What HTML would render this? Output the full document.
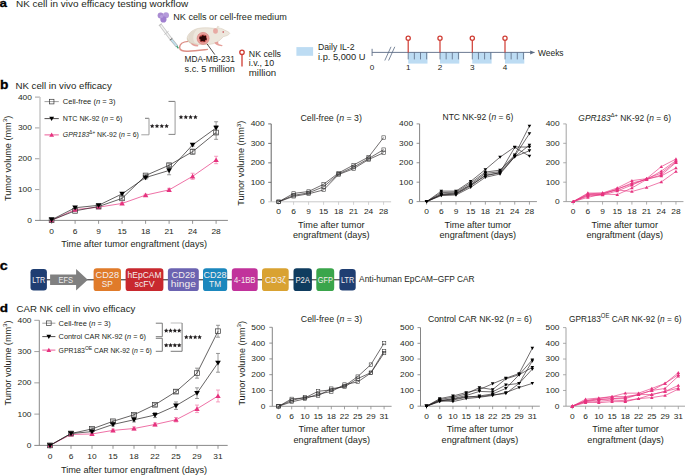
<!DOCTYPE html>
<html><head><meta charset="utf-8"><style>
html,body{margin:0;padding:0;background:#fff;overflow:hidden;}
svg{display:block;}
text{font-family:"Liberation Sans", sans-serif;}
</style></head><body>
<svg width="685" height="475" viewBox="0 0 685 475">
<rect width="685" height="475" fill="#fff"/>
<text transform="translate(-0.4,6.9) scale(1.150,1)" font-size="11.6" fill="#000" font-weight="bold" stroke="#000" stroke-width="0.3">a</text>
<text transform="translate(16,6.9) scale(1.070,1)" font-size="9.3" fill="#231f20">NK cell in vivo efficacy testing workflow</text>
<g>
<circle cx="160.6" cy="15.4" r="3.0" fill="#a98bd2"/>
<circle cx="166.0" cy="15.2" r="3.0" fill="#b49ada"/>
<circle cx="163.4" cy="19.4" r="3.1" fill="#a07fcf"/>
<circle cx="161.5" cy="16.5" r="1.6" fill="#c4b0e6" opacity="0.6"/>
</g>
<text transform="translate(173.3,19.8) scale(1.095,1)" font-size="8.3" fill="#231f20">NK cells or cell-free medium</text>
<g stroke-linecap="butt">
<line x1="160.4" y1="24.8" x2="171.3" y2="39.5" stroke="#c6c6c6" stroke-width="3"/>
<line x1="160.6" y1="25.1" x2="171.2" y2="39.4" stroke="#f3f3f3" stroke-width="1.5"/>
<line x1="171.3" y1="39.5" x2="177" y2="46.4" stroke="#b5b5b5" stroke-width="2.8"/>
<line x1="171.3" y1="39.5" x2="176.9" y2="46.3" stroke="#bfe0ee" stroke-width="1.6"/>
<line x1="169.9" y1="40.2" x2="172.3" y2="38.4" stroke="#555" stroke-width="0.9"/>
<line x1="164.4" y1="34.5" x2="168.6" y2="31.3" stroke="#c0c0c0" stroke-width="0.9"/>
<line x1="158.9" y1="25.7" x2="161.7" y2="23.6" stroke="#bdbdbd" stroke-width="1.1"/>
<line x1="176.7" y1="46" x2="178.4" y2="48.3" stroke="#3a9a70" stroke-width="1.3"/>
</g>
<path d="M188.2,41.4 C183.5,41.8 179.8,43.8 179.6,47.2 C179.5,50.4 183,51.5 188,51.2 C195,50.9 202,50.0 207.4,49.4" fill="none" stroke="#dc8f86" stroke-width="1.4" stroke-linecap="round"/>
<path d="M187.2,37.6 C188.5,32.5 194,28.6 201,28.0 C207,27.4 212,28.2 216,28.6 C219,27.6 222,28.4 224.5,30.0 C227,31.2 229.3,32.2 229.8,33.3 C228.6,35.4 226,36.0 223.5,36.6 C221.5,38.6 219.5,40.6 217.5,42.0 C214,44.2 209,44.6 203,44.5 C197,44.4 191.5,43.8 189.2,42.4 C187.6,41.2 187.0,39.4 187.2,37.6 Z" fill="#ede7dd" stroke="#d6cbbb" stroke-width="0.6"/>
<path d="M187.4,37.2 C188.2,41 192,43.6 200,44.4 C195.5,44.6 191.2,43.9 189.2,42.4 C187.6,41.2 187.0,39.4 187.4,37.2 Z" fill="#d8ccb8"/>
<path d="M188.4,36.2 C189.5,32.5 193,30.2 197,29.4 C194,32 192.8,35.5 193.4,39.5 C193.7,41.5 194.8,43 196.5,44.1 C192,43.6 189.2,41.8 188.4,39.5 Z" fill="#e3dace"/>
<ellipse cx="215.5" cy="31.0" rx="2.4" ry="2.8" fill="#e8aaa4"/>
<path d="M216.2,28.4 L217.6,25.8 L219.8,27.0 Z" fill="#e3dccf"/>
<circle cx="223.2" cy="31.9" r="0.75" fill="#c0303a"/>
<path d="M190.6,43.0 C191.5,45.2 193.5,46.4 197.5,46.4 C198.6,46.4 198.8,45.4 197.8,45.0 L195.5,44.5 Z" fill="#e5a09a"/>
<path d="M214.3,42.6 C215.5,44.6 217.5,46.0 221.8,46.3 C222.8,46.3 222.8,45.4 221.8,45.1 L218.6,44.0 L218,41.5 Z" fill="#e5a09a"/>
<circle cx="203.1" cy="38.4" r="6.0" fill="#e9a09c" stroke="#d77a75" stroke-width="0.6"/>
<circle cx="203.1" cy="38.4" r="3.9" fill="#c95552"/>
<path d="M199.6,36.6 L201.6,36.4 L202.6,35.0 L204.2,36.0 L206.2,35.4 L206.0,37.6 L207.0,39.4 L205.2,40.0 L204.6,41.8 L202.6,41.0 L200.4,41.6 L200.6,39.6 L199.2,38.4 Z" fill="#2c0606"/>
<line x1="207" y1="43.8" x2="214.8" y2="54.6" stroke="#231f20" stroke-width="0.8"/>
<text x="184.6" y="62.3" font-size="8.3" fill="#231f20">MDA-MB-231</text>
<text transform="translate(184.6,72.3) scale(1.102,1)" font-size="8.3" fill="#231f20">s.c. 5 million</text>
<circle cx="242.0" cy="52.3" r="2.2" fill="#fff" stroke="#cf3a31" stroke-width="1.3"/>
<line x1="242" y1="54.6" x2="242" y2="66.6" stroke="#cf3a31" stroke-width="1.3"/>
<text transform="translate(248.8,56.6) scale(1.058,1)" font-size="8.3" fill="#231f20">NK cells</text>
<text transform="translate(248.8,66.3) scale(1.066,1)" font-size="8.3" fill="#231f20">i.v., 10</text>
<text transform="translate(248.8,76.2) scale(1.165,1)" font-size="8.3" fill="#231f20">million</text>
<rect x="296.4" y="47.1" width="16.7" height="8.7" fill="#bddcf3"/>
<text transform="translate(318,49.9) scale(1.044,1)" font-size="8.3" fill="#231f20">Daily IL-2</text>
<text transform="translate(318,60) scale(1.119,1)" font-size="8.3" fill="#231f20">i.p. 5,000 U</text>
<line x1="372.1" y1="48.8" x2="372.1" y2="56" stroke="#5b6b84" stroke-width="0.9"/>
<rect x="408.2" y="52.4" width="19.3" height="11.2" fill="#bddcf3"/>
<rect x="440" y="52.4" width="19.3" height="11.2" fill="#bddcf3"/>
<rect x="472.3" y="52.4" width="19.3" height="11.2" fill="#bddcf3"/>
<rect x="505" y="52.4" width="19.3" height="11.2" fill="#bddcf3"/>
<line x1="372.1" y1="52.4" x2="534.5" y2="52.4" stroke="#5b6b84" stroke-width="0.9"/>
<polygon points="530.2,50.4 534.8,52.4 530.2,54.4" fill="#5b6b84"/>
<line x1="384.8" y1="60.5" x2="391" y2="46.8" stroke="#5b6b84" stroke-width="0.8"/>
<line x1="388.6" y1="60.5" x2="394.8" y2="46.8" stroke="#5b6b84" stroke-width="0.8"/>
<line x1="408.2" y1="52.4" x2="408.2" y2="59.4" stroke="#5b6b84" stroke-width="0.8"/>
<line x1="414.35" y1="52.4" x2="414.35" y2="59.4" stroke="#5b6b84" stroke-width="0.8"/>
<line x1="420.5" y1="52.4" x2="420.5" y2="59.4" stroke="#5b6b84" stroke-width="0.8"/>
<line x1="426.65" y1="52.4" x2="426.65" y2="59.4" stroke="#5b6b84" stroke-width="0.8"/>
<line x1="408.2" y1="40.4" x2="408.2" y2="52.4" stroke="#cf3a31" stroke-width="1.2"/>
<circle cx="408.2" cy="38.3" r="2.1" fill="#fff" stroke="#cf3a31" stroke-width="1.25"/>
<line x1="440" y1="52.4" x2="440" y2="59.4" stroke="#5b6b84" stroke-width="0.8"/>
<line x1="446.15" y1="52.4" x2="446.15" y2="59.4" stroke="#5b6b84" stroke-width="0.8"/>
<line x1="452.3" y1="52.4" x2="452.3" y2="59.4" stroke="#5b6b84" stroke-width="0.8"/>
<line x1="458.45" y1="52.4" x2="458.45" y2="59.4" stroke="#5b6b84" stroke-width="0.8"/>
<line x1="440" y1="40.4" x2="440" y2="52.4" stroke="#cf3a31" stroke-width="1.2"/>
<circle cx="440.0" cy="38.3" r="2.1" fill="#fff" stroke="#cf3a31" stroke-width="1.25"/>
<line x1="472.3" y1="52.4" x2="472.3" y2="59.4" stroke="#5b6b84" stroke-width="0.8"/>
<line x1="478.45" y1="52.4" x2="478.45" y2="59.4" stroke="#5b6b84" stroke-width="0.8"/>
<line x1="484.6" y1="52.4" x2="484.6" y2="59.4" stroke="#5b6b84" stroke-width="0.8"/>
<line x1="490.75" y1="52.4" x2="490.75" y2="59.4" stroke="#5b6b84" stroke-width="0.8"/>
<line x1="472.3" y1="40.4" x2="472.3" y2="52.4" stroke="#cf3a31" stroke-width="1.2"/>
<circle cx="472.3" cy="38.3" r="2.1" fill="#fff" stroke="#cf3a31" stroke-width="1.25"/>
<line x1="505" y1="52.4" x2="505" y2="59.4" stroke="#5b6b84" stroke-width="0.8"/>
<line x1="511.15" y1="52.4" x2="511.15" y2="59.4" stroke="#5b6b84" stroke-width="0.8"/>
<line x1="517.3" y1="52.4" x2="517.3" y2="59.4" stroke="#5b6b84" stroke-width="0.8"/>
<line x1="523.45" y1="52.4" x2="523.45" y2="59.4" stroke="#5b6b84" stroke-width="0.8"/>
<line x1="505" y1="40.4" x2="505" y2="52.4" stroke="#cf3a31" stroke-width="1.2"/>
<circle cx="505.0" cy="38.3" r="2.1" fill="#fff" stroke="#cf3a31" stroke-width="1.25"/>
<text transform="translate(372.1,69.6) scale(1.120,1)" font-size="7.3" text-anchor="middle" fill="#231f20">0</text>
<text transform="translate(408.2,69.6) scale(1.120,1)" font-size="7.3" text-anchor="middle" fill="#231f20">1</text>
<text transform="translate(440,69.6) scale(1.120,1)" font-size="7.3" text-anchor="middle" fill="#231f20">2</text>
<text transform="translate(472.3,69.6) scale(1.120,1)" font-size="7.3" text-anchor="middle" fill="#231f20">3</text>
<text transform="translate(505,69.6) scale(1.120,1)" font-size="7.3" text-anchor="middle" fill="#231f20">4</text>
<text transform="translate(538,55.6) scale(1.015,1)" font-size="8.3" fill="#231f20">Weeks</text>
<text transform="translate(0.1,89) scale(1.120,1)" font-size="12.3" fill="#000" font-weight="bold" stroke="#000" stroke-width="0.3">b</text>
<text transform="translate(15.4,89) scale(1.045,1)" font-size="9.3" fill="#231f20">NK cell in vivo efficacy</text>
<text transform="translate(31.9,222.85) scale(1.200,1)" font-size="7" text-anchor="end" fill="#231f20">0</text>
<line x1="35" y1="189.57" x2="40" y2="189.57" stroke="#8a8a8a" stroke-width="0.8"/>
<text transform="translate(31.9,192.02) scale(1.200,1)" font-size="7" text-anchor="end" fill="#231f20">100</text>
<line x1="35" y1="158.75" x2="40" y2="158.75" stroke="#8a8a8a" stroke-width="0.8"/>
<text transform="translate(31.9,161.2) scale(1.200,1)" font-size="7" text-anchor="end" fill="#231f20">200</text>
<line x1="35" y1="127.92" x2="40" y2="127.92" stroke="#8a8a8a" stroke-width="0.8"/>
<text transform="translate(31.9,130.38) scale(1.200,1)" font-size="7" text-anchor="end" fill="#231f20">300</text>
<line x1="35" y1="97.1" x2="40" y2="97.1" stroke="#8a8a8a" stroke-width="0.8"/>
<text transform="translate(31.9,99.55) scale(1.200,1)" font-size="7" text-anchor="end" fill="#231f20">400</text>
<line x1="40" y1="97.1" x2="40" y2="220.4" stroke="#c9c9c9" stroke-width="1.5"/>
<line x1="35" y1="220.4" x2="227.9" y2="220.4" stroke="#7a7a7a" stroke-width="0.9"/>
<line x1="51.6" y1="220.4" x2="51.6" y2="223.8" stroke="#7a7a7a" stroke-width="0.8"/>
<text transform="translate(51.6,233.8) scale(1.200,1)" font-size="7" text-anchor="middle" fill="#231f20">0</text>
<line x1="75.1" y1="220.4" x2="75.1" y2="223.8" stroke="#7a7a7a" stroke-width="0.8"/>
<text transform="translate(75.1,233.8) scale(1.200,1)" font-size="7" text-anchor="middle" fill="#231f20">6</text>
<line x1="98.6" y1="220.4" x2="98.6" y2="223.8" stroke="#7a7a7a" stroke-width="0.8"/>
<text transform="translate(98.6,233.8) scale(1.200,1)" font-size="7" text-anchor="middle" fill="#231f20">9</text>
<line x1="122.1" y1="220.4" x2="122.1" y2="223.8" stroke="#7a7a7a" stroke-width="0.8"/>
<text transform="translate(122.1,233.8) scale(1.200,1)" font-size="7" text-anchor="middle" fill="#231f20">15</text>
<line x1="145.6" y1="220.4" x2="145.6" y2="223.8" stroke="#7a7a7a" stroke-width="0.8"/>
<text transform="translate(145.6,233.8) scale(1.200,1)" font-size="7" text-anchor="middle" fill="#231f20">18</text>
<line x1="169.1" y1="220.4" x2="169.1" y2="223.8" stroke="#7a7a7a" stroke-width="0.8"/>
<text transform="translate(169.1,233.8) scale(1.200,1)" font-size="7" text-anchor="middle" fill="#231f20">21</text>
<line x1="192.6" y1="220.4" x2="192.6" y2="223.8" stroke="#7a7a7a" stroke-width="0.8"/>
<text transform="translate(192.6,233.8) scale(1.200,1)" font-size="7" text-anchor="middle" fill="#231f20">24</text>
<line x1="216.1" y1="220.4" x2="216.1" y2="223.8" stroke="#7a7a7a" stroke-width="0.8"/>
<text transform="translate(216.1,233.8) scale(1.200,1)" font-size="7" text-anchor="middle" fill="#231f20">28</text>
<text transform="translate(10.6,158.4) rotate(-90) scale(1.038,1)" font-size="8.8" text-anchor="middle" fill="#231f20">Tumor volume (mm<tspan dy="-3.6" font-size="5.98">3</tspan><tspan dy="3.6">)</tspan></text>
<text transform="translate(134.2,246.6) scale(1.076,1)" font-size="8.5" text-anchor="middle" fill="#231f20">Time after tumor engraftment (days)</text>
<line x1="122.1" y1="202.52" x2="122.1" y2="204.37" stroke="#f07aa8" stroke-width="0.7"/>
<line x1="120.1" y1="202.52" x2="124.1" y2="202.52" stroke="#f07aa8" stroke-width="0.7"/>
<line x1="120.1" y1="204.37" x2="124.1" y2="204.37" stroke="#f07aa8" stroke-width="0.7"/>
<line x1="145.6" y1="194.2" x2="145.6" y2="196.05" stroke="#f07aa8" stroke-width="0.7"/>
<line x1="143.6" y1="194.2" x2="147.6" y2="194.2" stroke="#f07aa8" stroke-width="0.7"/>
<line x1="143.6" y1="196.05" x2="147.6" y2="196.05" stroke="#f07aa8" stroke-width="0.7"/>
<line x1="169.1" y1="188.34" x2="169.1" y2="191.42" stroke="#f07aa8" stroke-width="0.7"/>
<line x1="167.1" y1="188.34" x2="171.1" y2="188.34" stroke="#f07aa8" stroke-width="0.7"/>
<line x1="167.1" y1="191.42" x2="171.1" y2="191.42" stroke="#f07aa8" stroke-width="0.7"/>
<line x1="192.6" y1="173.24" x2="192.6" y2="179.4" stroke="#f07aa8" stroke-width="0.7"/>
<line x1="190.6" y1="173.24" x2="194.6" y2="173.24" stroke="#f07aa8" stroke-width="0.7"/>
<line x1="190.6" y1="179.4" x2="194.6" y2="179.4" stroke="#f07aa8" stroke-width="0.7"/>
<line x1="216.1" y1="156.28" x2="216.1" y2="163.68" stroke="#f07aa8" stroke-width="0.7"/>
<line x1="214.1" y1="156.28" x2="218.1" y2="156.28" stroke="#f07aa8" stroke-width="0.7"/>
<line x1="214.1" y1="163.68" x2="218.1" y2="163.68" stroke="#f07aa8" stroke-width="0.7"/>
<line x1="75.1" y1="209.92" x2="75.1" y2="211.77" stroke="#707070" stroke-width="0.7"/>
<line x1="73.1" y1="209.92" x2="77.1" y2="209.92" stroke="#707070" stroke-width="0.7"/>
<line x1="73.1" y1="211.77" x2="77.1" y2="211.77" stroke="#707070" stroke-width="0.7"/>
<line x1="98.6" y1="205.6" x2="98.6" y2="207.45" stroke="#707070" stroke-width="0.7"/>
<line x1="96.6" y1="205.6" x2="100.6" y2="205.6" stroke="#707070" stroke-width="0.7"/>
<line x1="96.6" y1="207.45" x2="100.6" y2="207.45" stroke="#707070" stroke-width="0.7"/>
<line x1="122.1" y1="196.82" x2="122.1" y2="199.9" stroke="#707070" stroke-width="0.7"/>
<line x1="120.1" y1="196.82" x2="124.1" y2="196.82" stroke="#707070" stroke-width="0.7"/>
<line x1="120.1" y1="199.9" x2="124.1" y2="199.9" stroke="#707070" stroke-width="0.7"/>
<line x1="145.6" y1="174.29" x2="145.6" y2="176.75" stroke="#707070" stroke-width="0.7"/>
<line x1="143.6" y1="174.29" x2="147.6" y2="174.29" stroke="#707070" stroke-width="0.7"/>
<line x1="143.6" y1="176.75" x2="147.6" y2="176.75" stroke="#707070" stroke-width="0.7"/>
<line x1="169.1" y1="163.68" x2="169.1" y2="166.76" stroke="#707070" stroke-width="0.7"/>
<line x1="167.1" y1="163.68" x2="171.1" y2="163.68" stroke="#707070" stroke-width="0.7"/>
<line x1="167.1" y1="166.76" x2="171.1" y2="166.76" stroke="#707070" stroke-width="0.7"/>
<line x1="192.6" y1="149.19" x2="192.6" y2="154.13" stroke="#707070" stroke-width="0.7"/>
<line x1="190.6" y1="149.19" x2="194.6" y2="149.19" stroke="#707070" stroke-width="0.7"/>
<line x1="190.6" y1="154.13" x2="194.6" y2="154.13" stroke="#707070" stroke-width="0.7"/>
<line x1="216.1" y1="125.77" x2="216.1" y2="139.33" stroke="#707070" stroke-width="0.7"/>
<line x1="214.1" y1="125.77" x2="218.1" y2="125.77" stroke="#707070" stroke-width="0.7"/>
<line x1="214.1" y1="139.33" x2="218.1" y2="139.33" stroke="#707070" stroke-width="0.7"/>
<line x1="75.1" y1="206.84" x2="75.1" y2="208.69" stroke="#707070" stroke-width="0.7"/>
<line x1="73.1" y1="206.84" x2="77.1" y2="206.84" stroke="#707070" stroke-width="0.7"/>
<line x1="73.1" y1="208.69" x2="77.1" y2="208.69" stroke="#707070" stroke-width="0.7"/>
<line x1="98.6" y1="204.37" x2="98.6" y2="206.22" stroke="#707070" stroke-width="0.7"/>
<line x1="96.6" y1="204.37" x2="100.6" y2="204.37" stroke="#707070" stroke-width="0.7"/>
<line x1="96.6" y1="206.22" x2="100.6" y2="206.22" stroke="#707070" stroke-width="0.7"/>
<line x1="122.1" y1="192.66" x2="122.1" y2="195.12" stroke="#707070" stroke-width="0.7"/>
<line x1="120.1" y1="192.66" x2="124.1" y2="192.66" stroke="#707070" stroke-width="0.7"/>
<line x1="120.1" y1="195.12" x2="124.1" y2="195.12" stroke="#707070" stroke-width="0.7"/>
<line x1="145.6" y1="176.01" x2="145.6" y2="179.09" stroke="#707070" stroke-width="0.7"/>
<line x1="143.6" y1="176.01" x2="147.6" y2="176.01" stroke="#707070" stroke-width="0.7"/>
<line x1="143.6" y1="179.09" x2="147.6" y2="179.09" stroke="#707070" stroke-width="0.7"/>
<line x1="169.1" y1="166.15" x2="169.1" y2="174.78" stroke="#707070" stroke-width="0.7"/>
<line x1="167.1" y1="166.15" x2="171.1" y2="166.15" stroke="#707070" stroke-width="0.7"/>
<line x1="167.1" y1="174.78" x2="171.1" y2="174.78" stroke="#707070" stroke-width="0.7"/>
<line x1="192.6" y1="143.65" x2="192.6" y2="146.11" stroke="#707070" stroke-width="0.7"/>
<line x1="190.6" y1="143.65" x2="194.6" y2="143.65" stroke="#707070" stroke-width="0.7"/>
<line x1="190.6" y1="146.11" x2="194.6" y2="146.11" stroke="#707070" stroke-width="0.7"/>
<line x1="216.1" y1="121.76" x2="216.1" y2="134.09" stroke="#707070" stroke-width="0.7"/>
<line x1="214.1" y1="121.76" x2="218.1" y2="121.76" stroke="#707070" stroke-width="0.7"/>
<line x1="214.1" y1="134.09" x2="218.1" y2="134.09" stroke="#707070" stroke-width="0.7"/>
<polyline points="51.6,220.4 75.1,209.61 98.6,207.15 122.1,203.45 145.6,195.12 169.1,189.88 192.6,176.32 216.1,159.98" fill="none" stroke="#e6337f" stroke-width="0.7" stroke-linejoin="round"/>
<polyline points="51.6,220.09 75.1,210.84 98.6,206.53 122.1,198.36 145.6,175.52 169.1,165.22 192.6,151.66 216.1,132.55" fill="none" stroke="#231f20" stroke-width="0.7" stroke-linejoin="round"/>
<polyline points="51.6,219.78 75.1,207.76 98.6,205.3 122.1,193.89 145.6,177.55 169.1,170.46 192.6,144.88 216.1,127.92" fill="none" stroke="#231f20" stroke-width="0.7" stroke-linejoin="round"/>
<polygon points="48.87,222.48 54.33,222.48 51.6,217.8" fill="#e6337f"/>
<polygon points="72.37,211.69 77.83,211.69 75.1,207.01" fill="#e6337f"/>
<polygon points="95.87,209.23 101.33,209.23 98.6,204.55" fill="#e6337f"/>
<polygon points="119.37,205.53 124.83,205.53 122.1,200.85" fill="#e6337f"/>
<polygon points="142.87,197.2 148.33,197.2 145.6,192.52" fill="#e6337f"/>
<polygon points="166.37,191.96 171.83,191.96 169.1,187.28" fill="#e6337f"/>
<polygon points="189.87,178.4 195.33,178.4 192.6,173.72" fill="#e6337f"/>
<polygon points="213.37,162.06 218.83,162.06 216.1,157.38" fill="#e6337f"/>
<rect x="49.2" y="217.69" width="4.8" height="4.8" fill="none" stroke="#3a3a3a" stroke-width="0.7"/>
<rect x="72.7" y="208.44" width="4.8" height="4.8" fill="none" stroke="#3a3a3a" stroke-width="0.7"/>
<rect x="96.2" y="204.13" width="4.8" height="4.8" fill="none" stroke="#3a3a3a" stroke-width="0.7"/>
<rect x="119.7" y="195.96" width="4.8" height="4.8" fill="none" stroke="#3a3a3a" stroke-width="0.7"/>
<rect x="143.2" y="173.12" width="4.8" height="4.8" fill="none" stroke="#3a3a3a" stroke-width="0.7"/>
<rect x="166.7" y="162.82" width="4.8" height="4.8" fill="none" stroke="#3a3a3a" stroke-width="0.7"/>
<rect x="190.2" y="149.26" width="4.8" height="4.8" fill="none" stroke="#3a3a3a" stroke-width="0.7"/>
<rect x="213.7" y="130.15" width="4.8" height="4.8" fill="none" stroke="#3a3a3a" stroke-width="0.7"/>
<polygon points="48.77,217.62 54.44,217.62 51.6,222.48" fill="#000"/>
<polygon points="72.27,205.6 77.93,205.6 75.1,210.46" fill="#000"/>
<polygon points="95.77,203.14 101.43,203.14 98.6,208" fill="#000"/>
<polygon points="119.27,191.73 124.93,191.73 122.1,196.59" fill="#000"/>
<polygon points="142.76,175.39 148.44,175.39 145.6,180.25" fill="#000"/>
<polygon points="166.26,168.3 171.94,168.3 169.1,173.16" fill="#000"/>
<polygon points="189.76,142.72 195.44,142.72 192.6,147.58" fill="#000"/>
<polygon points="213.26,125.77 218.94,125.77 216.1,130.62" fill="#000"/>
<line x1="44.5" y1="101.6" x2="58.8" y2="101.6" stroke="#888" stroke-width="0.8"/>
<rect x="49.35" y="99.3" width="4.6" height="4.6" fill="none" stroke="#3a3a3a" stroke-width="0.7"/>
<text transform="translate(62.8,104.1) scale(1.019,1)" font-size="7.4" fill="#231f20">Cell-free (<tspan font-style="italic">n</tspan> = 3)</text>
<line x1="44.5" y1="118.6" x2="58.8" y2="118.6" stroke="#231f20" stroke-width="0.8"/>
<polygon points="49.23,116.76 54.06,116.76 51.65,120.9" fill="#000"/>
<text transform="translate(62.8,121.1) scale(0.963,1)" font-size="7.4" fill="#231f20">NTC NK-92 (<tspan font-style="italic">n</tspan> = 6)</text>
<line x1="44.5" y1="134.9" x2="58.8" y2="134.9" stroke="#e6337f" stroke-width="0.8"/>
<polygon points="49.23,136.74 54.06,136.74 51.65,132.6" fill="#e6337f"/>
<text transform="translate(62.8,137.4) scale(0.937,1)" font-size="7.4" fill="#231f20"><tspan font-style="italic">GPR183</tspan><tspan font-size="5.0" dy="-3.0">Δ+</tspan><tspan dy="3.0"> NK-92 (</tspan><tspan font-style="italic">n</tspan> = 6)</text>
<line x1="145" y1="118.3" x2="149" y2="118.3" stroke="#666" stroke-width="0.9"/>
<line x1="149" y1="118.3" x2="149" y2="134.8" stroke="#aaa" stroke-width="1.2"/>
<line x1="141.3" y1="134.8" x2="149" y2="134.8" stroke="#999" stroke-width="0.9"/>
<polygon points="152.20,123.70 152.88,125.17 154.48,125.36 153.30,126.46 153.61,128.04 152.20,127.25 150.79,128.04 151.10,126.46 149.92,125.36 151.52,125.17" fill="#231f20"/>
<polygon points="157.00,123.70 157.68,125.17 159.28,125.36 158.10,126.46 158.41,128.04 157.00,127.25 155.59,128.04 155.90,126.46 154.72,125.36 156.32,125.17" fill="#231f20"/>
<polygon points="161.80,123.70 162.48,125.17 164.08,125.36 162.90,126.46 163.21,128.04 161.80,127.25 160.39,128.04 160.70,126.46 159.52,125.36 161.12,125.17" fill="#231f20"/>
<polygon points="166.60,123.70 167.28,125.17 168.88,125.36 167.70,126.46 168.01,128.04 166.60,127.25 165.19,128.04 165.50,126.46 164.32,125.36 165.92,125.17" fill="#231f20"/>
<line x1="168.5" y1="101.4" x2="175.1" y2="101.4" stroke="#666" stroke-width="0.9"/>
<line x1="175.1" y1="101.4" x2="175.1" y2="134.4" stroke="#aaa" stroke-width="1.2"/>
<line x1="168.5" y1="134.4" x2="175.1" y2="134.4" stroke="#777" stroke-width="0.9"/>
<polygon points="181.00,114.80 181.68,116.27 183.28,116.46 182.10,117.56 182.41,119.14 181.00,118.35 179.59,119.14 179.90,117.56 178.72,116.46 180.32,116.27" fill="#231f20"/>
<polygon points="185.80,114.80 186.48,116.27 188.08,116.46 186.90,117.56 187.21,119.14 185.80,118.35 184.39,119.14 184.70,117.56 183.52,116.46 185.12,116.27" fill="#231f20"/>
<polygon points="190.60,114.80 191.28,116.27 192.88,116.46 191.70,117.56 192.01,119.14 190.60,118.35 189.19,119.14 189.50,117.56 188.32,116.46 189.92,116.27" fill="#231f20"/>
<polygon points="195.40,114.80 196.08,116.27 197.68,116.46 196.50,117.56 196.81,119.14 195.40,118.35 193.99,119.14 194.30,117.56 193.12,116.46 194.72,116.27" fill="#231f20"/>
<text transform="translate(264.7,204.25) scale(1.200,1)" font-size="7" text-anchor="end" fill="#231f20">0</text>
<line x1="268.2" y1="182.33" x2="271.2" y2="182.33" stroke="#555" stroke-width="0.8"/>
<text transform="translate(264.7,184.78) scale(1.200,1)" font-size="7" text-anchor="end" fill="#231f20">100</text>
<line x1="268.2" y1="162.85" x2="271.2" y2="162.85" stroke="#555" stroke-width="0.8"/>
<text transform="translate(264.7,165.3) scale(1.200,1)" font-size="7" text-anchor="end" fill="#231f20">200</text>
<line x1="268.2" y1="143.38" x2="271.2" y2="143.38" stroke="#555" stroke-width="0.8"/>
<text transform="translate(264.7,145.82) scale(1.200,1)" font-size="7" text-anchor="end" fill="#231f20">300</text>
<line x1="268.2" y1="123.9" x2="271.2" y2="123.9" stroke="#555" stroke-width="0.8"/>
<text transform="translate(264.7,126.35) scale(1.200,1)" font-size="7" text-anchor="end" fill="#231f20">400</text>
<line x1="271.2" y1="123.9" x2="271.2" y2="201.8" stroke="#555" stroke-width="0.9"/>
<line x1="268.2" y1="201.8" x2="391.1" y2="201.8" stroke="#c4c4c4" stroke-width="0.9"/>
<line x1="278.6" y1="201.8" x2="278.6" y2="204.8" stroke="#c4c4c4" stroke-width="0.8"/>
<text transform="translate(278.6,214.1) scale(1.200,1)" font-size="7" text-anchor="middle" fill="#231f20">0</text>
<line x1="293.6" y1="201.8" x2="293.6" y2="204.8" stroke="#c4c4c4" stroke-width="0.8"/>
<text transform="translate(293.6,214.1) scale(1.200,1)" font-size="7" text-anchor="middle" fill="#231f20">6</text>
<line x1="308.6" y1="201.8" x2="308.6" y2="204.8" stroke="#c4c4c4" stroke-width="0.8"/>
<text transform="translate(308.6,214.1) scale(1.200,1)" font-size="7" text-anchor="middle" fill="#231f20">9</text>
<line x1="323.6" y1="201.8" x2="323.6" y2="204.8" stroke="#c4c4c4" stroke-width="0.8"/>
<text transform="translate(323.6,214.1) scale(1.200,1)" font-size="7" text-anchor="middle" fill="#231f20">15</text>
<line x1="338.6" y1="201.8" x2="338.6" y2="204.8" stroke="#c4c4c4" stroke-width="0.8"/>
<text transform="translate(338.6,214.1) scale(1.200,1)" font-size="7" text-anchor="middle" fill="#231f20">18</text>
<line x1="353.6" y1="201.8" x2="353.6" y2="204.8" stroke="#c4c4c4" stroke-width="0.8"/>
<text transform="translate(353.6,214.1) scale(1.200,1)" font-size="7" text-anchor="middle" fill="#231f20">21</text>
<line x1="368.6" y1="201.8" x2="368.6" y2="204.8" stroke="#c4c4c4" stroke-width="0.8"/>
<text transform="translate(368.6,214.1) scale(1.200,1)" font-size="7" text-anchor="middle" fill="#231f20">24</text>
<line x1="383.6" y1="201.8" x2="383.6" y2="204.8" stroke="#c4c4c4" stroke-width="0.8"/>
<text transform="translate(383.6,214.1) scale(1.200,1)" font-size="7" text-anchor="middle" fill="#231f20">28</text>
<text x="331.2" y="120.6" font-size="8.8" text-anchor="middle" fill="#231f20">Cell-free (<tspan font-style="italic">n</tspan> = 3)</text>
<text transform="translate(331.3,227.7) scale(1.061,1)" font-size="8.6" text-anchor="middle" fill="#231f20">Time after tumor</text>
<text transform="translate(331.3,237.7) scale(1.063,1)" font-size="8.6" text-anchor="middle" fill="#231f20">engraftment (days)</text>
<text transform="translate(244.3,163.3) rotate(-90) scale(1.086,1)" font-size="8.4" text-anchor="middle" fill="#231f20">Tumor volume (mm<tspan dy="-3.6" font-size="5.71">3</tspan><tspan dy="3.6">)</tspan></text>
<polyline points="278.6,201.8 293.6,193.43 308.6,191.48 323.6,184.27 338.6,172.98 353.6,164.99 368.6,157.01 383.6,137.53" fill="none" stroke="#231f20" stroke-width="0.65" stroke-linejoin="round"/>
<polyline points="278.6,201.8 293.6,195.37 308.6,192.84 323.6,186.8 338.6,173.95 353.6,167.13 368.6,158.57 383.6,149.61" fill="none" stroke="#231f20" stroke-width="0.65" stroke-linejoin="round"/>
<polyline points="278.6,201.8 293.6,196.35 308.6,193.82 323.6,189.92 338.6,174.54 353.6,168.69 368.6,159.54 383.6,152.72" fill="none" stroke="#231f20" stroke-width="0.65" stroke-linejoin="round"/>
<rect x="276.9" y="200.1" width="3.4" height="3.4" fill="none" stroke="#333" stroke-width="0.55"/>
<rect x="291.9" y="191.73" width="3.4" height="3.4" fill="none" stroke="#333" stroke-width="0.55"/>
<rect x="306.9" y="189.78" width="3.4" height="3.4" fill="none" stroke="#333" stroke-width="0.55"/>
<rect x="321.9" y="182.57" width="3.4" height="3.4" fill="none" stroke="#333" stroke-width="0.55"/>
<rect x="336.9" y="171.28" width="3.4" height="3.4" fill="none" stroke="#333" stroke-width="0.55"/>
<rect x="351.9" y="163.29" width="3.4" height="3.4" fill="none" stroke="#333" stroke-width="0.55"/>
<rect x="366.9" y="155.31" width="3.4" height="3.4" fill="none" stroke="#333" stroke-width="0.55"/>
<rect x="381.9" y="135.83" width="3.4" height="3.4" fill="none" stroke="#333" stroke-width="0.55"/>
<rect x="276.9" y="200.1" width="3.4" height="3.4" fill="none" stroke="#333" stroke-width="0.55"/>
<rect x="291.9" y="193.67" width="3.4" height="3.4" fill="none" stroke="#333" stroke-width="0.55"/>
<rect x="306.9" y="191.14" width="3.4" height="3.4" fill="none" stroke="#333" stroke-width="0.55"/>
<rect x="321.9" y="185.1" width="3.4" height="3.4" fill="none" stroke="#333" stroke-width="0.55"/>
<rect x="336.9" y="172.25" width="3.4" height="3.4" fill="none" stroke="#333" stroke-width="0.55"/>
<rect x="351.9" y="165.43" width="3.4" height="3.4" fill="none" stroke="#333" stroke-width="0.55"/>
<rect x="366.9" y="156.87" width="3.4" height="3.4" fill="none" stroke="#333" stroke-width="0.55"/>
<rect x="381.9" y="147.91" width="3.4" height="3.4" fill="none" stroke="#333" stroke-width="0.55"/>
<rect x="276.9" y="200.1" width="3.4" height="3.4" fill="none" stroke="#333" stroke-width="0.55"/>
<rect x="291.9" y="194.65" width="3.4" height="3.4" fill="none" stroke="#333" stroke-width="0.55"/>
<rect x="306.9" y="192.12" width="3.4" height="3.4" fill="none" stroke="#333" stroke-width="0.55"/>
<rect x="321.9" y="188.22" width="3.4" height="3.4" fill="none" stroke="#333" stroke-width="0.55"/>
<rect x="336.9" y="172.84" width="3.4" height="3.4" fill="none" stroke="#333" stroke-width="0.55"/>
<rect x="351.9" y="166.99" width="3.4" height="3.4" fill="none" stroke="#333" stroke-width="0.55"/>
<rect x="366.9" y="157.84" width="3.4" height="3.4" fill="none" stroke="#333" stroke-width="0.55"/>
<rect x="381.9" y="151.02" width="3.4" height="3.4" fill="none" stroke="#333" stroke-width="0.55"/>
<text transform="translate(413.1,204.05) scale(1.200,1)" font-size="7" text-anchor="end" fill="#231f20">0</text>
<line x1="416.6" y1="182.18" x2="419.6" y2="182.18" stroke="#777" stroke-width="0.8"/>
<text transform="translate(413.1,184.62) scale(1.200,1)" font-size="7" text-anchor="end" fill="#231f20">100</text>
<line x1="416.6" y1="162.75" x2="419.6" y2="162.75" stroke="#777" stroke-width="0.8"/>
<text transform="translate(413.1,165.2) scale(1.200,1)" font-size="7" text-anchor="end" fill="#231f20">200</text>
<line x1="416.6" y1="143.32" x2="419.6" y2="143.32" stroke="#777" stroke-width="0.8"/>
<text transform="translate(413.1,145.77) scale(1.200,1)" font-size="7" text-anchor="end" fill="#231f20">300</text>
<line x1="416.6" y1="123.9" x2="419.6" y2="123.9" stroke="#777" stroke-width="0.8"/>
<text transform="translate(413.1,126.35) scale(1.200,1)" font-size="7" text-anchor="end" fill="#231f20">400</text>
<line x1="419.6" y1="123.9" x2="419.6" y2="201.6" stroke="#777" stroke-width="0.9"/>
<line x1="416.6" y1="201.6" x2="536.93" y2="201.6" stroke="#8a8a8a" stroke-width="0.9"/>
<line x1="426.6" y1="201.6" x2="426.6" y2="204.6" stroke="#8a8a8a" stroke-width="0.8"/>
<text transform="translate(426.6,213.9) scale(1.200,1)" font-size="7" text-anchor="middle" fill="#231f20">0</text>
<line x1="441.29" y1="201.6" x2="441.29" y2="204.6" stroke="#8a8a8a" stroke-width="0.8"/>
<text transform="translate(441.29,213.9) scale(1.200,1)" font-size="7" text-anchor="middle" fill="#231f20">6</text>
<line x1="455.98" y1="201.6" x2="455.98" y2="204.6" stroke="#8a8a8a" stroke-width="0.8"/>
<text transform="translate(455.98,213.9) scale(1.200,1)" font-size="7" text-anchor="middle" fill="#231f20">9</text>
<line x1="470.67" y1="201.6" x2="470.67" y2="204.6" stroke="#8a8a8a" stroke-width="0.8"/>
<text transform="translate(470.67,213.9) scale(1.200,1)" font-size="7" text-anchor="middle" fill="#231f20">15</text>
<line x1="485.36" y1="201.6" x2="485.36" y2="204.6" stroke="#8a8a8a" stroke-width="0.8"/>
<text transform="translate(485.36,213.9) scale(1.200,1)" font-size="7" text-anchor="middle" fill="#231f20">18</text>
<line x1="500.05" y1="201.6" x2="500.05" y2="204.6" stroke="#8a8a8a" stroke-width="0.8"/>
<text transform="translate(500.05,213.9) scale(1.200,1)" font-size="7" text-anchor="middle" fill="#231f20">21</text>
<line x1="514.74" y1="201.6" x2="514.74" y2="204.6" stroke="#8a8a8a" stroke-width="0.8"/>
<text transform="translate(514.74,213.9) scale(1.200,1)" font-size="7" text-anchor="middle" fill="#231f20">24</text>
<line x1="529.43" y1="201.6" x2="529.43" y2="204.6" stroke="#8a8a8a" stroke-width="0.8"/>
<text transform="translate(529.43,213.9) scale(1.200,1)" font-size="7" text-anchor="middle" fill="#231f20">28</text>
<text transform="translate(477.9,119.8) scale(0.961,1)" font-size="8.8" text-anchor="middle" fill="#231f20">NTC NK-92 (<tspan font-style="italic">n</tspan> = 6)</text>
<text transform="translate(477.8,227.7) scale(1.061,1)" font-size="8.6" text-anchor="middle" fill="#231f20">Time after tumor</text>
<text transform="translate(477.8,237.7) scale(1.063,1)" font-size="8.6" text-anchor="middle" fill="#231f20">engraftment (days)</text>
<polyline points="426.6,201.6 441.29,191.11 455.98,191.11 470.67,181.4 485.36,169.55 500.05,157.12 514.74,147.02 529.43,147.02" fill="none" stroke="#231f20" stroke-width="0.65" stroke-linejoin="round"/>
<polyline points="426.6,201.6 441.29,192.66 455.98,192.08 470.67,182.95 485.36,172.07 500.05,170.13 514.74,154.98 529.43,126.04" fill="none" stroke="#231f20" stroke-width="0.65" stroke-linejoin="round"/>
<polyline points="426.6,201.6 441.29,194.02 455.98,193.05 470.67,184.51 485.36,173.43 500.05,171.69 514.74,156.15 529.43,133.61" fill="none" stroke="#231f20" stroke-width="0.65" stroke-linejoin="round"/>
<polyline points="426.6,201.6 441.29,195 455.98,194.02 470.67,186.06 485.36,174.99 500.05,173.05 514.74,156.73 529.43,145.07" fill="none" stroke="#231f20" stroke-width="0.65" stroke-linejoin="round"/>
<polyline points="426.6,201.6 441.29,195.58 455.98,195 470.67,187.42 485.36,177.32 500.05,174.02 514.74,156.73 529.43,150.71" fill="none" stroke="#231f20" stroke-width="0.65" stroke-linejoin="round"/>
<polyline points="426.6,201.6 441.29,194.61 455.98,193.83 470.67,185.09 485.36,175.96 500.05,172.46 514.74,147.4 529.43,156.15" fill="none" stroke="#231f20" stroke-width="0.65" stroke-linejoin="round"/>
<polygon points="424.81,200.24 428.39,200.24 426.6,203.3" fill="#000"/>
<polygon points="439.5,189.75 443.08,189.75 441.29,192.81" fill="#000"/>
<polygon points="454.19,189.75 457.77,189.75 455.98,192.81" fill="#000"/>
<polygon points="468.88,180.04 472.46,180.04 470.67,183.1" fill="#000"/>
<polygon points="483.57,168.19 487.15,168.19 485.36,171.25" fill="#000"/>
<polygon points="498.26,155.76 501.84,155.76 500.05,158.82" fill="#000"/>
<polygon points="512.96,145.66 516.52,145.66 514.74,148.72" fill="#000"/>
<polygon points="527.65,145.66 531.22,145.66 529.43,148.72" fill="#000"/>
<polygon points="424.81,200.24 428.39,200.24 426.6,203.3" fill="#000"/>
<polygon points="439.5,191.3 443.08,191.3 441.29,194.36" fill="#000"/>
<polygon points="454.19,190.72 457.77,190.72 455.98,193.78" fill="#000"/>
<polygon points="468.88,181.59 472.46,181.59 470.67,184.65" fill="#000"/>
<polygon points="483.57,170.71 487.15,170.71 485.36,173.77" fill="#000"/>
<polygon points="498.26,168.77 501.84,168.77 500.05,171.83" fill="#000"/>
<polygon points="512.96,153.62 516.52,153.62 514.74,156.68" fill="#000"/>
<polygon points="527.65,124.68 531.22,124.68 529.43,127.74" fill="#000"/>
<polygon points="424.81,200.24 428.39,200.24 426.6,203.3" fill="#000"/>
<polygon points="439.5,192.66 443.08,192.66 441.29,195.72" fill="#000"/>
<polygon points="454.19,191.69 457.77,191.69 455.98,194.75" fill="#000"/>
<polygon points="468.88,183.15 472.46,183.15 470.67,186.21" fill="#000"/>
<polygon points="483.57,172.07 487.15,172.07 485.36,175.13" fill="#000"/>
<polygon points="498.26,170.33 501.84,170.33 500.05,173.39" fill="#000"/>
<polygon points="512.96,154.79 516.52,154.79 514.74,157.85" fill="#000"/>
<polygon points="527.65,132.25 531.22,132.25 529.43,135.31" fill="#000"/>
<polygon points="424.81,200.24 428.39,200.24 426.6,203.3" fill="#000"/>
<polygon points="439.5,193.64 443.08,193.64 441.29,196.7" fill="#000"/>
<polygon points="454.19,192.66 457.77,192.66 455.98,195.72" fill="#000"/>
<polygon points="468.88,184.7 472.46,184.7 470.67,187.76" fill="#000"/>
<polygon points="483.57,173.63 487.15,173.63 485.36,176.69" fill="#000"/>
<polygon points="498.26,171.69 501.84,171.69 500.05,174.75" fill="#000"/>
<polygon points="512.96,155.37 516.52,155.37 514.74,158.43" fill="#000"/>
<polygon points="527.65,143.71 531.22,143.71 529.43,146.77" fill="#000"/>
<polygon points="424.81,200.24 428.39,200.24 426.6,203.3" fill="#000"/>
<polygon points="439.5,194.22 443.08,194.22 441.29,197.28" fill="#000"/>
<polygon points="454.19,193.64 457.77,193.64 455.98,196.7" fill="#000"/>
<polygon points="468.88,186.06 472.46,186.06 470.67,189.12" fill="#000"/>
<polygon points="483.57,175.96 487.15,175.96 485.36,179.02" fill="#000"/>
<polygon points="498.26,172.66 501.84,172.66 500.05,175.72" fill="#000"/>
<polygon points="512.96,155.37 516.52,155.37 514.74,158.43" fill="#000"/>
<polygon points="527.65,149.35 531.22,149.35 529.43,152.41" fill="#000"/>
<polygon points="424.81,200.24 428.39,200.24 426.6,203.3" fill="#000"/>
<polygon points="439.5,193.25 443.08,193.25 441.29,196.31" fill="#000"/>
<polygon points="454.19,192.47 457.77,192.47 455.98,195.53" fill="#000"/>
<polygon points="468.88,183.73 472.46,183.73 470.67,186.79" fill="#000"/>
<polygon points="483.57,174.6 487.15,174.6 485.36,177.66" fill="#000"/>
<polygon points="498.26,171.1 501.84,171.1 500.05,174.16" fill="#000"/>
<polygon points="512.96,146.04 516.52,146.04 514.74,149.1" fill="#000"/>
<polygon points="527.65,154.79 531.22,154.79 529.43,157.85" fill="#000"/>
<text transform="translate(559.7,204.05) scale(1.200,1)" font-size="7" text-anchor="end" fill="#231f20">0</text>
<line x1="563.2" y1="182.18" x2="566.2" y2="182.18" stroke="#999" stroke-width="0.8"/>
<text transform="translate(559.7,184.62) scale(1.200,1)" font-size="7" text-anchor="end" fill="#231f20">100</text>
<line x1="563.2" y1="162.75" x2="566.2" y2="162.75" stroke="#999" stroke-width="0.8"/>
<text transform="translate(559.7,165.2) scale(1.200,1)" font-size="7" text-anchor="end" fill="#231f20">200</text>
<line x1="563.2" y1="143.32" x2="566.2" y2="143.32" stroke="#999" stroke-width="0.8"/>
<text transform="translate(559.7,145.77) scale(1.200,1)" font-size="7" text-anchor="end" fill="#231f20">300</text>
<line x1="563.2" y1="123.9" x2="566.2" y2="123.9" stroke="#999" stroke-width="0.8"/>
<text transform="translate(559.7,126.35) scale(1.200,1)" font-size="7" text-anchor="end" fill="#231f20">400</text>
<line x1="566.2" y1="123.9" x2="566.2" y2="201.6" stroke="#999" stroke-width="0.9"/>
<line x1="563.2" y1="201.6" x2="683.46" y2="201.6" stroke="#999" stroke-width="0.9"/>
<line x1="573.2" y1="201.6" x2="573.2" y2="204.6" stroke="#999" stroke-width="0.8"/>
<text transform="translate(573.2,213.9) scale(1.200,1)" font-size="7" text-anchor="middle" fill="#231f20">0</text>
<line x1="587.88" y1="201.6" x2="587.88" y2="204.6" stroke="#999" stroke-width="0.8"/>
<text transform="translate(587.88,213.9) scale(1.200,1)" font-size="7" text-anchor="middle" fill="#231f20">6</text>
<line x1="602.56" y1="201.6" x2="602.56" y2="204.6" stroke="#999" stroke-width="0.8"/>
<text transform="translate(602.56,213.9) scale(1.200,1)" font-size="7" text-anchor="middle" fill="#231f20">9</text>
<line x1="617.24" y1="201.6" x2="617.24" y2="204.6" stroke="#999" stroke-width="0.8"/>
<text transform="translate(617.24,213.9) scale(1.200,1)" font-size="7" text-anchor="middle" fill="#231f20">15</text>
<line x1="631.92" y1="201.6" x2="631.92" y2="204.6" stroke="#999" stroke-width="0.8"/>
<text transform="translate(631.92,213.9) scale(1.200,1)" font-size="7" text-anchor="middle" fill="#231f20">18</text>
<line x1="646.6" y1="201.6" x2="646.6" y2="204.6" stroke="#999" stroke-width="0.8"/>
<text transform="translate(646.6,213.9) scale(1.200,1)" font-size="7" text-anchor="middle" fill="#231f20">21</text>
<line x1="661.28" y1="201.6" x2="661.28" y2="204.6" stroke="#999" stroke-width="0.8"/>
<text transform="translate(661.28,213.9) scale(1.200,1)" font-size="7" text-anchor="middle" fill="#231f20">24</text>
<line x1="675.96" y1="201.6" x2="675.96" y2="204.6" stroke="#999" stroke-width="0.8"/>
<text transform="translate(675.96,213.9) scale(1.200,1)" font-size="7" text-anchor="middle" fill="#231f20">28</text>
<text transform="translate(624.7,121) scale(0.960,1)" font-size="8.8" text-anchor="middle" fill="#231f20"><tspan font-style="italic">GPR183</tspan><tspan font-size="6.0" dy="-3.6">Δ+</tspan><tspan dy="3.6"> NK-92 (</tspan><tspan font-style="italic">n</tspan> = 6)</text>
<text transform="translate(624.7,227.7) scale(1.061,1)" font-size="8.6" text-anchor="middle" fill="#231f20">Time after tumor</text>
<text transform="translate(624.7,237.7) scale(1.063,1)" font-size="8.6" text-anchor="middle" fill="#231f20">engraftment (days)</text>
<polyline points="573.2,201.6 587.88,193.05 602.56,193.05 617.24,188 631.92,180.62 646.6,178.68 661.28,166.63 675.96,159.06" fill="none" stroke="#e6337f" stroke-width="0.65" stroke-linejoin="round"/>
<polyline points="573.2,201.6 587.88,194.61 602.56,194.02 617.24,189.36 631.92,182.95 646.6,179.46 661.28,171.1 675.96,160.61" fill="none" stroke="#e6337f" stroke-width="0.65" stroke-linejoin="round"/>
<polyline points="573.2,201.6 587.88,195.97 602.56,195 617.24,190.92 631.92,185.09 646.6,178.68 661.28,173.05 675.96,161.78" fill="none" stroke="#e6337f" stroke-width="0.65" stroke-linejoin="round"/>
<polyline points="573.2,201.6 587.88,197.33 602.56,194.02 617.24,194.61 631.92,188 646.6,179.46 661.28,174.99 675.96,162.56" fill="none" stroke="#e6337f" stroke-width="0.65" stroke-linejoin="round"/>
<polyline points="573.2,201.6 587.88,193.83 602.56,193.05 617.24,189.94 631.92,191.5 646.6,187.42 661.28,181.98 675.96,171.49" fill="none" stroke="#e6337f" stroke-width="0.65" stroke-linejoin="round"/>
<polyline points="573.2,201.6 587.88,195.19 602.56,194.22 617.24,188.97 631.92,184.12 646.6,179.07 661.28,175.96 675.96,167.99" fill="none" stroke="#e6337f" stroke-width="0.65" stroke-linejoin="round"/>
<polygon points="571.42,202.96 574.99,202.96 573.2,199.9" fill="#e6337f"/>
<polygon points="586.1,194.41 589.66,194.41 587.88,191.35" fill="#e6337f"/>
<polygon points="600.78,194.41 604.35,194.41 602.56,191.35" fill="#e6337f"/>
<polygon points="615.46,189.36 619.02,189.36 617.24,186.3" fill="#e6337f"/>
<polygon points="630.14,181.98 633.71,181.98 631.92,178.92" fill="#e6337f"/>
<polygon points="644.82,180.04 648.38,180.04 646.6,176.98" fill="#e6337f"/>
<polygon points="659.5,168 663.07,168 661.28,164.94" fill="#e6337f"/>
<polygon points="674.18,160.42 677.75,160.42 675.96,157.36" fill="#e6337f"/>
<polygon points="571.42,202.96 574.99,202.96 573.2,199.9" fill="#e6337f"/>
<polygon points="586.1,195.97 589.66,195.97 587.88,192.91" fill="#e6337f"/>
<polygon points="600.78,195.38 604.35,195.38 602.56,192.32" fill="#e6337f"/>
<polygon points="615.46,190.72 619.02,190.72 617.24,187.66" fill="#e6337f"/>
<polygon points="630.14,184.31 633.71,184.31 631.92,181.25" fill="#e6337f"/>
<polygon points="644.82,180.82 648.38,180.82 646.6,177.76" fill="#e6337f"/>
<polygon points="659.5,172.46 663.07,172.46 661.28,169.4" fill="#e6337f"/>
<polygon points="674.18,161.97 677.75,161.97 675.96,158.91" fill="#e6337f"/>
<polygon points="571.42,202.96 574.99,202.96 573.2,199.9" fill="#e6337f"/>
<polygon points="586.1,197.33 589.66,197.33 587.88,194.27" fill="#e6337f"/>
<polygon points="600.78,196.36 604.35,196.36 602.56,193.3" fill="#e6337f"/>
<polygon points="615.46,192.28 619.02,192.28 617.24,189.22" fill="#e6337f"/>
<polygon points="630.14,186.45 633.71,186.45 631.92,183.39" fill="#e6337f"/>
<polygon points="644.82,180.04 648.38,180.04 646.6,176.98" fill="#e6337f"/>
<polygon points="659.5,174.41 663.07,174.41 661.28,171.35" fill="#e6337f"/>
<polygon points="674.18,163.14 677.75,163.14 675.96,160.08" fill="#e6337f"/>
<polygon points="571.42,202.96 574.99,202.96 573.2,199.9" fill="#e6337f"/>
<polygon points="586.1,198.69 589.66,198.69 587.88,195.63" fill="#e6337f"/>
<polygon points="600.78,195.38 604.35,195.38 602.56,192.32" fill="#e6337f"/>
<polygon points="615.46,195.97 619.02,195.97 617.24,192.91" fill="#e6337f"/>
<polygon points="630.14,189.36 633.71,189.36 631.92,186.3" fill="#e6337f"/>
<polygon points="644.82,180.82 648.38,180.82 646.6,177.76" fill="#e6337f"/>
<polygon points="659.5,176.35 663.07,176.35 661.28,173.29" fill="#e6337f"/>
<polygon points="674.18,163.92 677.75,163.92 675.96,160.86" fill="#e6337f"/>
<polygon points="571.42,202.96 574.99,202.96 573.2,199.9" fill="#e6337f"/>
<polygon points="586.1,195.19 589.66,195.19 587.88,192.13" fill="#e6337f"/>
<polygon points="600.78,194.41 604.35,194.41 602.56,191.35" fill="#e6337f"/>
<polygon points="615.46,191.31 619.02,191.31 617.24,188.25" fill="#e6337f"/>
<polygon points="630.14,192.86 633.71,192.86 631.92,189.8" fill="#e6337f"/>
<polygon points="644.82,188.78 648.38,188.78 646.6,185.72" fill="#e6337f"/>
<polygon points="659.5,183.34 663.07,183.34 661.28,180.28" fill="#e6337f"/>
<polygon points="674.18,172.85 677.75,172.85 675.96,169.79" fill="#e6337f"/>
<polygon points="571.42,202.96 574.99,202.96 573.2,199.9" fill="#e6337f"/>
<polygon points="586.1,196.55 589.66,196.55 587.88,193.49" fill="#e6337f"/>
<polygon points="600.78,195.58 604.35,195.58 602.56,192.52" fill="#e6337f"/>
<polygon points="615.46,190.33 619.02,190.33 617.24,187.27" fill="#e6337f"/>
<polygon points="630.14,185.48 633.71,185.48 631.92,182.42" fill="#e6337f"/>
<polygon points="644.82,180.43 648.38,180.43 646.6,177.37" fill="#e6337f"/>
<polygon points="659.5,177.32 663.07,177.32 661.28,174.26" fill="#e6337f"/>
<polygon points="674.18,169.35 677.75,169.35 675.96,166.29" fill="#e6337f"/>
<text transform="translate(-0.2,269.5) scale(1.150,1)" font-size="12.5" fill="#000" font-weight="bold" stroke="#000" stroke-width="0.3">c</text>
<line x1="46" y1="279.8" x2="340" y2="279.8" stroke="#231f20" stroke-width="1"/>
<rect x="30.5" y="269" width="16.4" height="21.5" fill="#1f3e72" rx="3.2"/>
<text transform="translate(38.7,282.6) scale(0.874,1)" font-size="8.2" text-anchor="middle" fill="#f4eeee">LTR</text>
<polygon points="50.1,274.4 76.1,274.4 76.1,269.0 87.8,279.8 76.1,290.6 76.1,285.1 50.1,285.1" fill="#808080"/>
<text transform="translate(65.8,282.5) scale(0.894,1)" font-size="8.4" text-anchor="middle" fill="#eeeeee">EFS</text>
<rect x="93.6" y="268.3" width="27.4" height="22.8" fill="#e07b2a" rx="3.2"/>
<text transform="translate(107.3,277.8) scale(1.121,1)" font-size="8.2" text-anchor="middle" fill="#f4eeee">CD28</text>
<text transform="translate(107.3,287.3) scale(1.006,1)" font-size="8.2" text-anchor="middle" fill="#f4eeee">SP</text>
<rect x="125.6" y="268.3" width="37.8" height="22.8" fill="#c8282e" rx="3.2"/>
<text transform="translate(144.5,277.8) scale(1.036,1)" font-size="8.2" text-anchor="middle" fill="#f4eeee">hEpCAM</text>
<text transform="translate(144.5,287.3) scale(1.071,1)" font-size="8.2" text-anchor="middle" fill="#f4eeee">scFV</text>
<rect x="167.9" y="268.3" width="30.9" height="22.8" fill="#6b63b1" rx="3.2"/>
<text transform="translate(183.35,277.8) scale(1.121,1)" font-size="8.2" text-anchor="middle" fill="#f4eeee">CD28</text>
<text transform="translate(183.35,287.3) scale(1.246,1)" font-size="8.2" text-anchor="middle" fill="#f4eeee">hinge</text>
<rect x="203" y="268.3" width="24.2" height="22.8" fill="#1b87bd" rx="3.2"/>
<text transform="translate(215.1,277.8) scale(1.097,1)" font-size="8.2" text-anchor="middle" fill="#f4eeee">CD28</text>
<text transform="translate(215.1,287.3) scale(1.014,1)" font-size="8.2" text-anchor="middle" fill="#f4eeee">TM</text>
<rect x="231.8" y="268.3" width="25.9" height="22.8" fill="#c1329b" rx="3.2"/>
<text transform="translate(244.75,282.6) scale(0.943,1)" font-size="8.2" text-anchor="middle" fill="#f4eeee">4-1BB</text>
<rect x="262" y="268.3" width="26.7" height="22.8" fill="#d9a232" rx="3.2"/>
<text transform="translate(275.35,282.6) scale(1.049,1)" font-size="8.2" text-anchor="middle" fill="#f4eeee">CD3ζ</text>
<rect x="293.5" y="268.3" width="18.4" height="22.8" fill="#0f3c5f" rx="3.2"/>
<text transform="translate(302.7,282.6) scale(0.936,1)" font-size="8.2" text-anchor="middle" fill="#f4eeee">P2A</text>
<rect x="316.3" y="268.3" width="17.9" height="22.8" fill="#3aa54b" rx="3.2"/>
<text transform="translate(325.25,282.6) scale(0.890,1)" font-size="8.2" text-anchor="middle" fill="#f4eeee">GFP</text>
<rect x="339.4" y="269" width="16.3" height="21.5" fill="#1f3e72" rx="3.2"/>
<text transform="translate(347.55,282.6) scale(0.874,1)" font-size="8.2" text-anchor="middle" fill="#f4eeee">LTR</text>
<text transform="translate(359.1,282.4) scale(1.008,1)" font-size="8.3" fill="#231f20">Anti-human EpCAM–GFP CAR</text>
<text transform="translate(-0.3,311.9) scale(1.150,1)" font-size="11.8" fill="#000" font-weight="bold" stroke="#000" stroke-width="0.3">d</text>
<text transform="translate(16.5,311.9) scale(1.039,1)" font-size="9.3" fill="#231f20">CAR NK cell in vivo efficacy</text>
<text transform="translate(31.5,447.85) scale(1.200,1)" font-size="7" text-anchor="end" fill="#231f20">0</text>
<line x1="34.3" y1="414.12" x2="39.3" y2="414.12" stroke="#8a8a8a" stroke-width="0.8"/>
<text transform="translate(31.5,416.57) scale(1.200,1)" font-size="7" text-anchor="end" fill="#231f20">100</text>
<line x1="34.3" y1="382.85" x2="39.3" y2="382.85" stroke="#8a8a8a" stroke-width="0.8"/>
<text transform="translate(31.5,385.3) scale(1.200,1)" font-size="7" text-anchor="end" fill="#231f20">200</text>
<line x1="34.3" y1="351.57" x2="39.3" y2="351.57" stroke="#8a8a8a" stroke-width="0.8"/>
<text transform="translate(31.5,354.02) scale(1.200,1)" font-size="7" text-anchor="end" fill="#231f20">300</text>
<line x1="34.3" y1="320.3" x2="39.3" y2="320.3" stroke="#8a8a8a" stroke-width="0.8"/>
<text transform="translate(31.5,322.75) scale(1.200,1)" font-size="7" text-anchor="end" fill="#231f20">400</text>
<line x1="39.3" y1="320.3" x2="39.3" y2="445.4" stroke="#7a7a7a" stroke-width="0.9"/>
<line x1="34.3" y1="445.4" x2="227.7" y2="445.4" stroke="#7a7a7a" stroke-width="0.9"/>
<line x1="50" y1="445.4" x2="50" y2="448.8" stroke="#7a7a7a" stroke-width="0.8"/>
<text transform="translate(50,459) scale(1.200,1)" font-size="7" text-anchor="middle" fill="#231f20">0</text>
<line x1="71" y1="445.4" x2="71" y2="448.8" stroke="#7a7a7a" stroke-width="0.8"/>
<text transform="translate(71,459) scale(1.200,1)" font-size="7" text-anchor="middle" fill="#231f20">6</text>
<line x1="92" y1="445.4" x2="92" y2="448.8" stroke="#7a7a7a" stroke-width="0.8"/>
<text transform="translate(92,459) scale(1.200,1)" font-size="7" text-anchor="middle" fill="#231f20">10</text>
<line x1="113" y1="445.4" x2="113" y2="448.8" stroke="#7a7a7a" stroke-width="0.8"/>
<text transform="translate(113,459) scale(1.200,1)" font-size="7" text-anchor="middle" fill="#231f20">15</text>
<line x1="134" y1="445.4" x2="134" y2="448.8" stroke="#7a7a7a" stroke-width="0.8"/>
<text transform="translate(134,459) scale(1.200,1)" font-size="7" text-anchor="middle" fill="#231f20">18</text>
<line x1="155" y1="445.4" x2="155" y2="448.8" stroke="#7a7a7a" stroke-width="0.8"/>
<text transform="translate(155,459) scale(1.200,1)" font-size="7" text-anchor="middle" fill="#231f20">22</text>
<line x1="176" y1="445.4" x2="176" y2="448.8" stroke="#7a7a7a" stroke-width="0.8"/>
<text transform="translate(176,459) scale(1.200,1)" font-size="7" text-anchor="middle" fill="#231f20">25</text>
<line x1="197" y1="445.4" x2="197" y2="448.8" stroke="#7a7a7a" stroke-width="0.8"/>
<text transform="translate(197,459) scale(1.200,1)" font-size="7" text-anchor="middle" fill="#231f20">29</text>
<line x1="218" y1="445.4" x2="218" y2="448.8" stroke="#7a7a7a" stroke-width="0.8"/>
<text transform="translate(218,459) scale(1.200,1)" font-size="7" text-anchor="middle" fill="#231f20">31</text>
<text transform="translate(10.6,363) rotate(-90) scale(1.038,1)" font-size="8.8" text-anchor="middle" fill="#231f20">Tumor volume (mm<tspan dy="-3.6" font-size="5.98">3</tspan><tspan dy="3.6">)</tspan></text>
<text transform="translate(134,472.6) scale(1.079,1)" font-size="8.5" text-anchor="middle" fill="#231f20">Time after tumor engraftment (days)</text>
<line x1="92" y1="433.05" x2="92" y2="434.92" stroke="#f07aa8" stroke-width="0.7"/>
<line x1="90" y1="433.05" x2="94" y2="433.05" stroke="#f07aa8" stroke-width="0.7"/>
<line x1="90" y1="434.92" x2="94" y2="434.92" stroke="#f07aa8" stroke-width="0.7"/>
<line x1="113" y1="429.14" x2="113" y2="431.64" stroke="#f07aa8" stroke-width="0.7"/>
<line x1="111" y1="429.14" x2="115" y2="429.14" stroke="#f07aa8" stroke-width="0.7"/>
<line x1="111" y1="431.64" x2="115" y2="431.64" stroke="#f07aa8" stroke-width="0.7"/>
<line x1="134" y1="426.95" x2="134" y2="430.08" stroke="#f07aa8" stroke-width="0.7"/>
<line x1="132" y1="426.95" x2="136" y2="426.95" stroke="#f07aa8" stroke-width="0.7"/>
<line x1="132" y1="430.08" x2="136" y2="430.08" stroke="#f07aa8" stroke-width="0.7"/>
<line x1="155" y1="422.88" x2="155" y2="426.01" stroke="#f07aa8" stroke-width="0.7"/>
<line x1="153" y1="422.88" x2="157" y2="422.88" stroke="#f07aa8" stroke-width="0.7"/>
<line x1="153" y1="426.01" x2="157" y2="426.01" stroke="#f07aa8" stroke-width="0.7"/>
<line x1="176" y1="417.57" x2="176" y2="421.94" stroke="#f07aa8" stroke-width="0.7"/>
<line x1="174" y1="417.57" x2="178" y2="417.57" stroke="#f07aa8" stroke-width="0.7"/>
<line x1="174" y1="421.94" x2="178" y2="421.94" stroke="#f07aa8" stroke-width="0.7"/>
<line x1="197" y1="405.06" x2="197" y2="412.56" stroke="#f07aa8" stroke-width="0.7"/>
<line x1="195" y1="405.06" x2="199" y2="405.06" stroke="#f07aa8" stroke-width="0.7"/>
<line x1="195" y1="412.56" x2="199" y2="412.56" stroke="#f07aa8" stroke-width="0.7"/>
<line x1="218" y1="390.04" x2="218" y2="401.93" stroke="#f07aa8" stroke-width="0.7"/>
<line x1="216" y1="390.04" x2="220" y2="390.04" stroke="#f07aa8" stroke-width="0.7"/>
<line x1="216" y1="401.93" x2="220" y2="401.93" stroke="#f07aa8" stroke-width="0.7"/>
<line x1="71" y1="432.58" x2="71" y2="434.45" stroke="#707070" stroke-width="0.7"/>
<line x1="69" y1="432.58" x2="73" y2="432.58" stroke="#707070" stroke-width="0.7"/>
<line x1="69" y1="434.45" x2="73" y2="434.45" stroke="#707070" stroke-width="0.7"/>
<line x1="92" y1="427.7" x2="92" y2="430.2" stroke="#707070" stroke-width="0.7"/>
<line x1="90" y1="427.7" x2="94" y2="427.7" stroke="#707070" stroke-width="0.7"/>
<line x1="90" y1="430.2" x2="94" y2="430.2" stroke="#707070" stroke-width="0.7"/>
<line x1="113" y1="420.07" x2="113" y2="422.57" stroke="#707070" stroke-width="0.7"/>
<line x1="111" y1="420.07" x2="115" y2="420.07" stroke="#707070" stroke-width="0.7"/>
<line x1="111" y1="422.57" x2="115" y2="422.57" stroke="#707070" stroke-width="0.7"/>
<line x1="134" y1="413.5" x2="134" y2="416" stroke="#707070" stroke-width="0.7"/>
<line x1="132" y1="413.5" x2="136" y2="413.5" stroke="#707070" stroke-width="0.7"/>
<line x1="132" y1="416" x2="136" y2="416" stroke="#707070" stroke-width="0.7"/>
<line x1="155" y1="403.18" x2="155" y2="406.31" stroke="#707070" stroke-width="0.7"/>
<line x1="153" y1="403.18" x2="157" y2="403.18" stroke="#707070" stroke-width="0.7"/>
<line x1="153" y1="406.31" x2="157" y2="406.31" stroke="#707070" stroke-width="0.7"/>
<line x1="176" y1="389.73" x2="176" y2="393.48" stroke="#707070" stroke-width="0.7"/>
<line x1="174" y1="389.73" x2="178" y2="389.73" stroke="#707070" stroke-width="0.7"/>
<line x1="174" y1="393.48" x2="178" y2="393.48" stroke="#707070" stroke-width="0.7"/>
<line x1="197" y1="368.15" x2="197" y2="378.16" stroke="#707070" stroke-width="0.7"/>
<line x1="195" y1="368.15" x2="199" y2="368.15" stroke="#707070" stroke-width="0.7"/>
<line x1="195" y1="378.16" x2="199" y2="378.16" stroke="#707070" stroke-width="0.7"/>
<line x1="218" y1="325.3" x2="218" y2="337.19" stroke="#707070" stroke-width="0.7"/>
<line x1="216" y1="325.3" x2="220" y2="325.3" stroke="#707070" stroke-width="0.7"/>
<line x1="216" y1="337.19" x2="220" y2="337.19" stroke="#707070" stroke-width="0.7"/>
<line x1="71" y1="432.58" x2="71" y2="434.45" stroke="#707070" stroke-width="0.7"/>
<line x1="69" y1="432.58" x2="73" y2="432.58" stroke="#707070" stroke-width="0.7"/>
<line x1="69" y1="434.45" x2="73" y2="434.45" stroke="#707070" stroke-width="0.7"/>
<line x1="92" y1="430.39" x2="92" y2="432.89" stroke="#707070" stroke-width="0.7"/>
<line x1="90" y1="430.39" x2="94" y2="430.39" stroke="#707070" stroke-width="0.7"/>
<line x1="90" y1="432.89" x2="94" y2="432.89" stroke="#707070" stroke-width="0.7"/>
<line x1="113" y1="422.88" x2="113" y2="426.01" stroke="#707070" stroke-width="0.7"/>
<line x1="111" y1="422.88" x2="115" y2="422.88" stroke="#707070" stroke-width="0.7"/>
<line x1="111" y1="426.01" x2="115" y2="426.01" stroke="#707070" stroke-width="0.7"/>
<line x1="134" y1="417.57" x2="134" y2="421.94" stroke="#707070" stroke-width="0.7"/>
<line x1="132" y1="417.57" x2="136" y2="417.57" stroke="#707070" stroke-width="0.7"/>
<line x1="132" y1="421.94" x2="136" y2="421.94" stroke="#707070" stroke-width="0.7"/>
<line x1="155" y1="412.56" x2="155" y2="417.57" stroke="#707070" stroke-width="0.7"/>
<line x1="153" y1="412.56" x2="157" y2="412.56" stroke="#707070" stroke-width="0.7"/>
<line x1="153" y1="417.57" x2="157" y2="417.57" stroke="#707070" stroke-width="0.7"/>
<line x1="176" y1="401.93" x2="176" y2="409.43" stroke="#707070" stroke-width="0.7"/>
<line x1="174" y1="401.93" x2="178" y2="401.93" stroke="#707070" stroke-width="0.7"/>
<line x1="174" y1="409.43" x2="178" y2="409.43" stroke="#707070" stroke-width="0.7"/>
<line x1="197" y1="387.85" x2="197" y2="398.49" stroke="#707070" stroke-width="0.7"/>
<line x1="195" y1="387.85" x2="199" y2="387.85" stroke="#707070" stroke-width="0.7"/>
<line x1="195" y1="398.49" x2="199" y2="398.49" stroke="#707070" stroke-width="0.7"/>
<line x1="218" y1="353.45" x2="218" y2="372.22" stroke="#707070" stroke-width="0.7"/>
<line x1="216" y1="353.45" x2="220" y2="353.45" stroke="#707070" stroke-width="0.7"/>
<line x1="216" y1="372.22" x2="220" y2="372.22" stroke="#707070" stroke-width="0.7"/>
<polyline points="50,445.4 71,434.45 92,433.98 113,430.39 134,428.51 155,424.45 176,419.75 197,408.81 218,395.99" fill="none" stroke="#e6337f" stroke-width="0.7" stroke-linejoin="round"/>
<polyline points="50,445.4 71,433.52 92,428.95 113,421.32 134,414.75 155,404.74 176,391.61 197,373.15 218,331.25" fill="none" stroke="#231f20" stroke-width="0.7" stroke-linejoin="round"/>
<polyline points="50,445.4 71,433.52 92,431.64 113,424.45 134,419.75 155,415.06 176,405.68 197,393.17 218,362.83" fill="none" stroke="#231f20" stroke-width="0.7" stroke-linejoin="round"/>
<polygon points="47.27,447.48 52.73,447.48 50,442.8" fill="#e6337f"/>
<polygon points="68.27,436.53 73.73,436.53 71,431.85" fill="#e6337f"/>
<polygon points="89.27,436.06 94.73,436.06 92,431.38" fill="#e6337f"/>
<polygon points="110.27,432.47 115.73,432.47 113,427.79" fill="#e6337f"/>
<polygon points="131.27,430.59 136.73,430.59 134,425.91" fill="#e6337f"/>
<polygon points="152.27,426.53 157.73,426.53 155,421.85" fill="#e6337f"/>
<polygon points="173.27,421.83 178.73,421.83 176,417.15" fill="#e6337f"/>
<polygon points="194.27,410.89 199.73,410.89 197,406.21" fill="#e6337f"/>
<polygon points="215.27,398.07 220.73,398.07 218,393.39" fill="#e6337f"/>
<rect x="47.6" y="443" width="4.8" height="4.8" fill="none" stroke="#3a3a3a" stroke-width="0.7"/>
<rect x="68.6" y="431.12" width="4.8" height="4.8" fill="none" stroke="#3a3a3a" stroke-width="0.7"/>
<rect x="89.6" y="426.55" width="4.8" height="4.8" fill="none" stroke="#3a3a3a" stroke-width="0.7"/>
<rect x="110.6" y="418.92" width="4.8" height="4.8" fill="none" stroke="#3a3a3a" stroke-width="0.7"/>
<rect x="131.6" y="412.35" width="4.8" height="4.8" fill="none" stroke="#3a3a3a" stroke-width="0.7"/>
<rect x="152.6" y="402.34" width="4.8" height="4.8" fill="none" stroke="#3a3a3a" stroke-width="0.7"/>
<rect x="173.6" y="389.21" width="4.8" height="4.8" fill="none" stroke="#3a3a3a" stroke-width="0.7"/>
<rect x="194.6" y="370.75" width="4.8" height="4.8" fill="none" stroke="#3a3a3a" stroke-width="0.7"/>
<rect x="215.6" y="328.85" width="4.8" height="4.8" fill="none" stroke="#3a3a3a" stroke-width="0.7"/>
<polygon points="47.16,443.24 52.84,443.24 50,448.1" fill="#000"/>
<polygon points="68.17,431.36 73.83,431.36 71,436.22" fill="#000"/>
<polygon points="89.17,429.48 94.83,429.48 92,434.34" fill="#000"/>
<polygon points="110.17,422.29 115.83,422.29 113,427.15" fill="#000"/>
<polygon points="131.16,417.59 136.84,417.59 134,422.45" fill="#000"/>
<polygon points="152.16,412.9 157.84,412.9 155,417.76" fill="#000"/>
<polygon points="173.16,403.52 178.84,403.52 176,408.38" fill="#000"/>
<polygon points="194.16,391.01 199.84,391.01 197,395.87" fill="#000"/>
<polygon points="215.16,360.67 220.84,360.67 218,365.53" fill="#000"/>
<line x1="42.3" y1="323.2" x2="55.4" y2="323.2" stroke="#888" stroke-width="0.8"/>
<rect x="46.55" y="320.9" width="4.6" height="4.6" fill="none" stroke="#3a3a3a" stroke-width="0.7"/>
<text transform="translate(58.6,325.7) scale(1.009,1)" font-size="7.4" fill="#231f20">Cell-free (<tspan font-style="italic">n</tspan> = 3)</text>
<line x1="42.3" y1="336.6" x2="55.4" y2="336.6" stroke="#231f20" stroke-width="0.8"/>
<polygon points="46.43,334.76 51.26,334.76 48.85,338.9" fill="#000"/>
<text transform="translate(58.6,339.1) scale(0.992,1)" font-size="7.4" fill="#231f20">Control CAR NK-92 (<tspan font-style="italic">n</tspan> = 6)</text>
<line x1="42.3" y1="350.1" x2="55.4" y2="350.1" stroke="#e6337f" stroke-width="0.8"/>
<polygon points="46.43,351.94 51.26,351.94 48.85,347.8" fill="#e6337f"/>
<text transform="translate(58.6,352.6) scale(0.928,1)" font-size="7.4" fill="#231f20">GPR183<tspan font-size="5.4" dy="-3.1">OE</tspan><tspan dy="3.1"> CAR NK-92 (</tspan><tspan font-style="italic">n</tspan> = 6)</text>
<line x1="155.8" y1="323.2" x2="162.3" y2="323.2" stroke="#6a6a6a" stroke-width="0.9"/>
<line x1="162.3" y1="323.2" x2="162.3" y2="336.7" stroke="#6a6a6a" stroke-width="0.9"/>
<line x1="155.8" y1="336.7" x2="162.3" y2="336.7" stroke="#6a6a6a" stroke-width="0.9"/>
<line x1="155.8" y1="338.3" x2="162.3" y2="338.3" stroke="#6a6a6a" stroke-width="0.9"/>
<line x1="162.3" y1="338.3" x2="162.3" y2="351.3" stroke="#6a6a6a" stroke-width="0.9"/>
<line x1="155.8" y1="351.3" x2="162.3" y2="351.3" stroke="#6a6a6a" stroke-width="0.9"/>
<line x1="170.7" y1="323" x2="182.1" y2="323" stroke="#b5b5b5" stroke-width="0.9"/>
<line x1="182.1" y1="323" x2="182.1" y2="351.3" stroke="#6a6a6a" stroke-width="0.9"/>
<line x1="170.7" y1="351.3" x2="182.1" y2="351.3" stroke="#6a6a6a" stroke-width="0.9"/>
<polygon points="166.20,328.30 166.88,329.77 168.48,329.96 167.30,331.06 167.61,332.64 166.20,331.85 164.79,332.64 165.10,331.06 163.92,329.96 165.52,329.77" fill="#231f20"/>
<polygon points="170.53,328.30 171.21,329.77 172.81,329.96 171.63,331.06 171.94,332.64 170.53,331.85 169.12,332.64 169.43,331.06 168.25,329.96 169.85,329.77" fill="#231f20"/>
<polygon points="174.86,328.30 175.54,329.77 177.14,329.96 175.96,331.06 176.27,332.64 174.86,331.85 173.45,332.64 173.76,331.06 172.58,329.96 174.18,329.77" fill="#231f20"/>
<polygon points="179.19,328.30 179.87,329.77 181.47,329.96 180.29,331.06 180.60,332.64 179.19,331.85 177.78,332.64 178.09,331.06 176.91,329.96 178.51,329.77" fill="#231f20"/>
<polygon points="166.20,342.90 166.88,344.37 168.48,344.56 167.30,345.66 167.61,347.24 166.20,346.45 164.79,347.24 165.10,345.66 163.92,344.56 165.52,344.37" fill="#231f20"/>
<polygon points="170.53,342.90 171.21,344.37 172.81,344.56 171.63,345.66 171.94,347.24 170.53,346.45 169.12,347.24 169.43,345.66 168.25,344.56 169.85,344.37" fill="#231f20"/>
<polygon points="174.86,342.90 175.54,344.37 177.14,344.56 175.96,345.66 176.27,347.24 174.86,346.45 173.45,347.24 173.76,345.66 172.58,344.56 174.18,344.37" fill="#231f20"/>
<polygon points="179.19,342.90 179.87,344.37 181.47,344.56 180.29,345.66 180.60,347.24 179.19,346.45 177.78,347.24 178.09,345.66 176.91,344.56 178.51,344.37" fill="#231f20"/>
<polygon points="186.30,334.80 186.98,336.27 188.58,336.46 187.40,337.56 187.71,339.14 186.30,338.35 184.89,339.14 185.20,337.56 184.02,336.46 185.62,336.27" fill="#231f20"/>
<polygon points="190.73,334.80 191.41,336.27 193.01,336.46 191.83,337.56 192.14,339.14 190.73,338.35 189.32,339.14 189.63,337.56 188.45,336.46 190.05,336.27" fill="#231f20"/>
<polygon points="195.16,334.80 195.84,336.27 197.44,336.46 196.26,337.56 196.57,339.14 195.16,338.35 193.75,339.14 194.06,337.56 192.88,336.46 194.48,336.27" fill="#231f20"/>
<polygon points="199.59,334.80 200.27,336.27 201.87,336.46 200.69,337.56 201.00,339.14 199.59,338.35 198.18,339.14 198.49,337.56 197.31,336.46 198.91,336.27" fill="#231f20"/>
<text transform="translate(265.3,408.75) scale(1.200,1)" font-size="7" text-anchor="end" fill="#231f20">0</text>
<line x1="269.3" y1="390.5" x2="272.3" y2="390.5" stroke="#777" stroke-width="0.8"/>
<text transform="translate(265.3,392.95) scale(1.200,1)" font-size="7" text-anchor="end" fill="#231f20">100</text>
<line x1="269.3" y1="374.7" x2="272.3" y2="374.7" stroke="#777" stroke-width="0.8"/>
<text transform="translate(265.3,377.15) scale(1.200,1)" font-size="7" text-anchor="end" fill="#231f20">200</text>
<line x1="269.3" y1="358.9" x2="272.3" y2="358.9" stroke="#777" stroke-width="0.8"/>
<text transform="translate(265.3,361.35) scale(1.200,1)" font-size="7" text-anchor="end" fill="#231f20">300</text>
<line x1="269.3" y1="343.1" x2="272.3" y2="343.1" stroke="#777" stroke-width="0.8"/>
<text transform="translate(265.3,345.55) scale(1.200,1)" font-size="7" text-anchor="end" fill="#231f20">400</text>
<line x1="269.3" y1="327.3" x2="272.3" y2="327.3" stroke="#777" stroke-width="0.8"/>
<text transform="translate(265.3,329.75) scale(1.200,1)" font-size="7" text-anchor="end" fill="#231f20">500</text>
<line x1="272.3" y1="327.3" x2="272.3" y2="406.3" stroke="#777" stroke-width="0.9"/>
<line x1="269.3" y1="406.3" x2="391.6" y2="406.3" stroke="#8a8a8a" stroke-width="0.9"/>
<line x1="278.5" y1="406.3" x2="278.5" y2="409.3" stroke="#8a8a8a" stroke-width="0.8"/>
<text transform="translate(278.5,418.6) scale(1.200,1)" font-size="7" text-anchor="middle" fill="#231f20">0</text>
<line x1="291.7" y1="406.3" x2="291.7" y2="409.3" stroke="#8a8a8a" stroke-width="0.8"/>
<text transform="translate(291.7,418.6) scale(1.200,1)" font-size="7" text-anchor="middle" fill="#231f20">6</text>
<line x1="304.9" y1="406.3" x2="304.9" y2="409.3" stroke="#8a8a8a" stroke-width="0.8"/>
<text transform="translate(304.9,418.6) scale(1.200,1)" font-size="7" text-anchor="middle" fill="#231f20">10</text>
<line x1="318.1" y1="406.3" x2="318.1" y2="409.3" stroke="#8a8a8a" stroke-width="0.8"/>
<text transform="translate(318.1,418.6) scale(1.200,1)" font-size="7" text-anchor="middle" fill="#231f20">15</text>
<line x1="331.3" y1="406.3" x2="331.3" y2="409.3" stroke="#8a8a8a" stroke-width="0.8"/>
<text transform="translate(331.3,418.6) scale(1.200,1)" font-size="7" text-anchor="middle" fill="#231f20">18</text>
<line x1="344.5" y1="406.3" x2="344.5" y2="409.3" stroke="#8a8a8a" stroke-width="0.8"/>
<text transform="translate(344.5,418.6) scale(1.200,1)" font-size="7" text-anchor="middle" fill="#231f20">22</text>
<line x1="357.7" y1="406.3" x2="357.7" y2="409.3" stroke="#8a8a8a" stroke-width="0.8"/>
<text transform="translate(357.7,418.6) scale(1.200,1)" font-size="7" text-anchor="middle" fill="#231f20">25</text>
<line x1="370.9" y1="406.3" x2="370.9" y2="409.3" stroke="#8a8a8a" stroke-width="0.8"/>
<text transform="translate(370.9,418.6) scale(1.200,1)" font-size="7" text-anchor="middle" fill="#231f20">29</text>
<line x1="384.1" y1="406.3" x2="384.1" y2="409.3" stroke="#8a8a8a" stroke-width="0.8"/>
<text transform="translate(384.1,418.6) scale(1.200,1)" font-size="7" text-anchor="middle" fill="#231f20">31</text>
<text x="331.5" y="321.5" font-size="8.8" text-anchor="middle" fill="#231f20">Cell-free (<tspan font-style="italic">n</tspan> = 3)</text>
<text transform="translate(331.8,432.3) scale(1.061,1)" font-size="8.6" text-anchor="middle" fill="#231f20">Time after tumor</text>
<text transform="translate(331.8,442.7) scale(1.063,1)" font-size="8.6" text-anchor="middle" fill="#231f20">engraftment (days)</text>
<text transform="translate(244.8,363.3) rotate(-90) scale(1.053,1)" font-size="8.6" text-anchor="middle" fill="#231f20">Tumor volume (mm<tspan dy="-3.6" font-size="5.85">3</tspan><tspan dy="3.6">)</tspan></text>
<polyline points="278.5,406.3 291.7,398.87 304.9,397.93 318.1,391.29 331.3,389.87 344.5,385.92 357.7,376.6 370.9,364.59 384.1,343.1" fill="none" stroke="#231f20" stroke-width="0.65" stroke-linejoin="round"/>
<polyline points="278.5,406.3 291.7,400.45 304.9,397.29 318.1,395.87 331.3,388.6 344.5,387.02 357.7,378.65 370.9,372.65 384.1,351" fill="none" stroke="#231f20" stroke-width="0.65" stroke-linejoin="round"/>
<polyline points="278.5,406.3 291.7,401.88 304.9,398.87 318.1,393.98 331.3,391.61 344.5,384.5 357.7,381.97 370.9,372.96 384.1,353.05" fill="none" stroke="#231f20" stroke-width="0.65" stroke-linejoin="round"/>
<rect x="276.8" y="404.6" width="3.4" height="3.4" fill="none" stroke="#333" stroke-width="0.55"/>
<rect x="290" y="397.17" width="3.4" height="3.4" fill="none" stroke="#333" stroke-width="0.55"/>
<rect x="303.2" y="396.23" width="3.4" height="3.4" fill="none" stroke="#333" stroke-width="0.55"/>
<rect x="316.4" y="389.59" width="3.4" height="3.4" fill="none" stroke="#333" stroke-width="0.55"/>
<rect x="329.6" y="388.17" width="3.4" height="3.4" fill="none" stroke="#333" stroke-width="0.55"/>
<rect x="342.8" y="384.22" width="3.4" height="3.4" fill="none" stroke="#333" stroke-width="0.55"/>
<rect x="356" y="374.9" width="3.4" height="3.4" fill="none" stroke="#333" stroke-width="0.55"/>
<rect x="369.2" y="362.89" width="3.4" height="3.4" fill="none" stroke="#333" stroke-width="0.55"/>
<rect x="382.4" y="341.4" width="3.4" height="3.4" fill="none" stroke="#333" stroke-width="0.55"/>
<rect x="276.8" y="404.6" width="3.4" height="3.4" fill="none" stroke="#333" stroke-width="0.55"/>
<rect x="290" y="398.75" width="3.4" height="3.4" fill="none" stroke="#333" stroke-width="0.55"/>
<rect x="303.2" y="395.59" width="3.4" height="3.4" fill="none" stroke="#333" stroke-width="0.55"/>
<rect x="316.4" y="394.17" width="3.4" height="3.4" fill="none" stroke="#333" stroke-width="0.55"/>
<rect x="329.6" y="386.9" width="3.4" height="3.4" fill="none" stroke="#333" stroke-width="0.55"/>
<rect x="342.8" y="385.32" width="3.4" height="3.4" fill="none" stroke="#333" stroke-width="0.55"/>
<rect x="356" y="376.95" width="3.4" height="3.4" fill="none" stroke="#333" stroke-width="0.55"/>
<rect x="369.2" y="370.95" width="3.4" height="3.4" fill="none" stroke="#333" stroke-width="0.55"/>
<rect x="382.4" y="349.3" width="3.4" height="3.4" fill="none" stroke="#333" stroke-width="0.55"/>
<rect x="276.8" y="404.6" width="3.4" height="3.4" fill="none" stroke="#333" stroke-width="0.55"/>
<rect x="290" y="400.18" width="3.4" height="3.4" fill="none" stroke="#333" stroke-width="0.55"/>
<rect x="303.2" y="397.17" width="3.4" height="3.4" fill="none" stroke="#333" stroke-width="0.55"/>
<rect x="316.4" y="392.28" width="3.4" height="3.4" fill="none" stroke="#333" stroke-width="0.55"/>
<rect x="329.6" y="389.91" width="3.4" height="3.4" fill="none" stroke="#333" stroke-width="0.55"/>
<rect x="342.8" y="382.8" width="3.4" height="3.4" fill="none" stroke="#333" stroke-width="0.55"/>
<rect x="356" y="380.27" width="3.4" height="3.4" fill="none" stroke="#333" stroke-width="0.55"/>
<rect x="369.2" y="371.26" width="3.4" height="3.4" fill="none" stroke="#333" stroke-width="0.55"/>
<rect x="382.4" y="351.35" width="3.4" height="3.4" fill="none" stroke="#333" stroke-width="0.55"/>
<text transform="translate(414,408.65) scale(1.200,1)" font-size="7" text-anchor="end" fill="#231f20">0</text>
<line x1="417.5" y1="390.48" x2="420.5" y2="390.48" stroke="#777" stroke-width="0.8"/>
<text transform="translate(414,392.93) scale(1.200,1)" font-size="7" text-anchor="end" fill="#231f20">100</text>
<line x1="417.5" y1="374.76" x2="420.5" y2="374.76" stroke="#777" stroke-width="0.8"/>
<text transform="translate(414,377.21) scale(1.200,1)" font-size="7" text-anchor="end" fill="#231f20">200</text>
<line x1="417.5" y1="359.04" x2="420.5" y2="359.04" stroke="#777" stroke-width="0.8"/>
<text transform="translate(414,361.49) scale(1.200,1)" font-size="7" text-anchor="end" fill="#231f20">300</text>
<line x1="417.5" y1="343.32" x2="420.5" y2="343.32" stroke="#777" stroke-width="0.8"/>
<text transform="translate(414,345.77) scale(1.200,1)" font-size="7" text-anchor="end" fill="#231f20">400</text>
<line x1="417.5" y1="327.6" x2="420.5" y2="327.6" stroke="#777" stroke-width="0.8"/>
<text transform="translate(414,330.05) scale(1.200,1)" font-size="7" text-anchor="end" fill="#231f20">500</text>
<line x1="420.5" y1="327.6" x2="420.5" y2="406.2" stroke="#777" stroke-width="0.9"/>
<line x1="417.5" y1="406.2" x2="539.84" y2="406.2" stroke="#8a8a8a" stroke-width="0.9"/>
<line x1="426.5" y1="406.2" x2="426.5" y2="409.2" stroke="#8a8a8a" stroke-width="0.8"/>
<text transform="translate(426.5,418.5) scale(1.200,1)" font-size="7" text-anchor="middle" fill="#231f20">0</text>
<line x1="439.73" y1="406.2" x2="439.73" y2="409.2" stroke="#8a8a8a" stroke-width="0.8"/>
<text transform="translate(439.73,418.5) scale(1.200,1)" font-size="7" text-anchor="middle" fill="#231f20">6</text>
<line x1="452.96" y1="406.2" x2="452.96" y2="409.2" stroke="#8a8a8a" stroke-width="0.8"/>
<text transform="translate(452.96,418.5) scale(1.200,1)" font-size="7" text-anchor="middle" fill="#231f20">10</text>
<line x1="466.19" y1="406.2" x2="466.19" y2="409.2" stroke="#8a8a8a" stroke-width="0.8"/>
<text transform="translate(466.19,418.5) scale(1.200,1)" font-size="7" text-anchor="middle" fill="#231f20">15</text>
<line x1="479.42" y1="406.2" x2="479.42" y2="409.2" stroke="#8a8a8a" stroke-width="0.8"/>
<text transform="translate(479.42,418.5) scale(1.200,1)" font-size="7" text-anchor="middle" fill="#231f20">18</text>
<line x1="492.65" y1="406.2" x2="492.65" y2="409.2" stroke="#8a8a8a" stroke-width="0.8"/>
<text transform="translate(492.65,418.5) scale(1.200,1)" font-size="7" text-anchor="middle" fill="#231f20">22</text>
<line x1="505.88" y1="406.2" x2="505.88" y2="409.2" stroke="#8a8a8a" stroke-width="0.8"/>
<text transform="translate(505.88,418.5) scale(1.200,1)" font-size="7" text-anchor="middle" fill="#231f20">25</text>
<line x1="519.11" y1="406.2" x2="519.11" y2="409.2" stroke="#8a8a8a" stroke-width="0.8"/>
<text transform="translate(519.11,418.5) scale(1.200,1)" font-size="7" text-anchor="middle" fill="#231f20">29</text>
<line x1="532.34" y1="406.2" x2="532.34" y2="409.2" stroke="#8a8a8a" stroke-width="0.8"/>
<text transform="translate(532.34,418.5) scale(1.200,1)" font-size="7" text-anchor="middle" fill="#231f20">31</text>
<text transform="translate(479.9,321.5) scale(0.990,1)" font-size="8.8" text-anchor="middle" fill="#231f20">Control CAR NK-92 (<tspan font-style="italic">n</tspan> = 6)</text>
<text transform="translate(479.9,432.3) scale(1.061,1)" font-size="8.6" text-anchor="middle" fill="#231f20">Time after tumor</text>
<text transform="translate(479.9,442.7) scale(1.063,1)" font-size="8.6" text-anchor="middle" fill="#231f20">engraftment (days)</text>
<polyline points="426.5,406.2 439.73,398.65 452.96,395.98 466.19,392.52 479.42,389.54 492.65,383.72 505.88,378.22 519.11,373.5 532.34,348.19" fill="none" stroke="#231f20" stroke-width="0.65" stroke-linejoin="round"/>
<polyline points="426.5,406.2 439.73,399.6 452.96,397.24 466.19,393.94 479.42,387.49 492.65,389.54 505.88,378.85 519.11,374.76 532.34,359.83" fill="none" stroke="#231f20" stroke-width="0.65" stroke-linejoin="round"/>
<polyline points="426.5,406.2 439.73,400.7 452.96,398.65 466.19,395.51 479.42,391.42 492.65,391.89 505.88,384.98 519.11,383.41 532.34,360.93" fill="none" stroke="#231f20" stroke-width="0.65" stroke-linejoin="round"/>
<polyline points="426.5,406.2 439.73,401.64 452.96,400.07 466.19,397.24 479.42,395.98 492.65,393.94 505.88,388.44 519.11,374.76 532.34,367.37" fill="none" stroke="#231f20" stroke-width="0.65" stroke-linejoin="round"/>
<polyline points="426.5,406.2 439.73,400.23 452.96,401.64 466.19,398.65 479.42,397.24 492.65,395.51 505.88,392.52 519.11,387.49 532.34,383.41" fill="none" stroke="#231f20" stroke-width="0.65" stroke-linejoin="round"/>
<polyline points="426.5,406.2 439.73,401.01 452.96,399.13 466.19,396.77 479.42,396.77 492.65,394.88 505.88,393.47 519.11,383.41 532.34,369.1" fill="none" stroke="#231f20" stroke-width="0.65" stroke-linejoin="round"/>
<polygon points="424.71,404.84 428.29,404.84 426.5,407.9" fill="#000"/>
<polygon points="437.94,397.29 441.52,397.29 439.73,400.35" fill="#000"/>
<polygon points="451.17,394.62 454.75,394.62 452.96,397.68" fill="#000"/>
<polygon points="464.4,391.16 467.98,391.16 466.19,394.22" fill="#000"/>
<polygon points="477.63,388.18 481.21,388.18 479.42,391.24" fill="#000"/>
<polygon points="490.86,382.36 494.44,382.36 492.65,385.42" fill="#000"/>
<polygon points="504.09,376.86 507.67,376.86 505.88,379.92" fill="#000"/>
<polygon points="517.33,372.14 520.89,372.14 519.11,375.2" fill="#000"/>
<polygon points="530.56,346.83 534.12,346.83 532.34,349.89" fill="#000"/>
<polygon points="424.71,404.84 428.29,404.84 426.5,407.9" fill="#000"/>
<polygon points="437.94,398.24 441.52,398.24 439.73,401.3" fill="#000"/>
<polygon points="451.17,395.88 454.75,395.88 452.96,398.94" fill="#000"/>
<polygon points="464.4,392.58 467.98,392.58 466.19,395.64" fill="#000"/>
<polygon points="477.63,386.13 481.21,386.13 479.42,389.19" fill="#000"/>
<polygon points="490.86,388.18 494.44,388.18 492.65,391.24" fill="#000"/>
<polygon points="504.09,377.49 507.67,377.49 505.88,380.55" fill="#000"/>
<polygon points="517.33,373.4 520.89,373.4 519.11,376.46" fill="#000"/>
<polygon points="530.56,358.47 534.12,358.47 532.34,361.53" fill="#000"/>
<polygon points="424.71,404.84 428.29,404.84 426.5,407.9" fill="#000"/>
<polygon points="437.94,399.34 441.52,399.34 439.73,402.4" fill="#000"/>
<polygon points="451.17,397.29 454.75,397.29 452.96,400.35" fill="#000"/>
<polygon points="464.4,394.15 467.98,394.15 466.19,397.21" fill="#000"/>
<polygon points="477.63,390.06 481.21,390.06 479.42,393.12" fill="#000"/>
<polygon points="490.86,390.53 494.44,390.53 492.65,393.59" fill="#000"/>
<polygon points="504.09,383.62 507.67,383.62 505.88,386.68" fill="#000"/>
<polygon points="517.33,382.05 520.89,382.05 519.11,385.11" fill="#000"/>
<polygon points="530.56,359.57 534.12,359.57 532.34,362.63" fill="#000"/>
<polygon points="424.71,404.84 428.29,404.84 426.5,407.9" fill="#000"/>
<polygon points="437.94,400.28 441.52,400.28 439.73,403.34" fill="#000"/>
<polygon points="451.17,398.71 454.75,398.71 452.96,401.77" fill="#000"/>
<polygon points="464.4,395.88 467.98,395.88 466.19,398.94" fill="#000"/>
<polygon points="477.63,394.62 481.21,394.62 479.42,397.68" fill="#000"/>
<polygon points="490.86,392.58 494.44,392.58 492.65,395.64" fill="#000"/>
<polygon points="504.09,387.08 507.67,387.08 505.88,390.14" fill="#000"/>
<polygon points="517.33,373.4 520.89,373.4 519.11,376.46" fill="#000"/>
<polygon points="530.56,366.01 534.12,366.01 532.34,369.07" fill="#000"/>
<polygon points="424.71,404.84 428.29,404.84 426.5,407.9" fill="#000"/>
<polygon points="437.94,398.87 441.52,398.87 439.73,401.93" fill="#000"/>
<polygon points="451.17,400.28 454.75,400.28 452.96,403.34" fill="#000"/>
<polygon points="464.4,397.29 467.98,397.29 466.19,400.35" fill="#000"/>
<polygon points="477.63,395.88 481.21,395.88 479.42,398.94" fill="#000"/>
<polygon points="490.86,394.15 494.44,394.15 492.65,397.21" fill="#000"/>
<polygon points="504.09,391.16 507.67,391.16 505.88,394.22" fill="#000"/>
<polygon points="517.33,386.13 520.89,386.13 519.11,389.19" fill="#000"/>
<polygon points="530.56,382.05 534.12,382.05 532.34,385.11" fill="#000"/>
<polygon points="424.71,404.84 428.29,404.84 426.5,407.9" fill="#000"/>
<polygon points="437.94,399.65 441.52,399.65 439.73,402.71" fill="#000"/>
<polygon points="451.17,397.77 454.75,397.77 452.96,400.83" fill="#000"/>
<polygon points="464.4,395.41 467.98,395.41 466.19,398.47" fill="#000"/>
<polygon points="477.63,395.41 481.21,395.41 479.42,398.47" fill="#000"/>
<polygon points="490.86,393.52 494.44,393.52 492.65,396.58" fill="#000"/>
<polygon points="504.09,392.11 507.67,392.11 505.88,395.17" fill="#000"/>
<polygon points="517.33,382.05 520.89,382.05 519.11,385.11" fill="#000"/>
<polygon points="530.56,367.74 534.12,367.74 532.34,370.8" fill="#000"/>
<text transform="translate(559.5,408.65) scale(1.200,1)" font-size="7" text-anchor="end" fill="#231f20">0</text>
<line x1="563" y1="390.48" x2="566" y2="390.48" stroke="#999" stroke-width="0.8"/>
<text transform="translate(559.5,392.93) scale(1.200,1)" font-size="7" text-anchor="end" fill="#231f20">100</text>
<line x1="563" y1="374.76" x2="566" y2="374.76" stroke="#999" stroke-width="0.8"/>
<text transform="translate(559.5,377.21) scale(1.200,1)" font-size="7" text-anchor="end" fill="#231f20">200</text>
<line x1="563" y1="359.04" x2="566" y2="359.04" stroke="#999" stroke-width="0.8"/>
<text transform="translate(559.5,361.49) scale(1.200,1)" font-size="7" text-anchor="end" fill="#231f20">300</text>
<line x1="563" y1="343.32" x2="566" y2="343.32" stroke="#999" stroke-width="0.8"/>
<text transform="translate(559.5,345.77) scale(1.200,1)" font-size="7" text-anchor="end" fill="#231f20">400</text>
<line x1="563" y1="327.6" x2="566" y2="327.6" stroke="#999" stroke-width="0.8"/>
<text transform="translate(559.5,330.05) scale(1.200,1)" font-size="7" text-anchor="end" fill="#231f20">500</text>
<line x1="566" y1="327.6" x2="566" y2="406.2" stroke="#999" stroke-width="0.9"/>
<line x1="563" y1="406.2" x2="685.8" y2="406.2" stroke="#999" stroke-width="0.9"/>
<line x1="572.3" y1="406.2" x2="572.3" y2="409.2" stroke="#999" stroke-width="0.8"/>
<text transform="translate(572.3,418.5) scale(1.200,1)" font-size="7" text-anchor="middle" fill="#231f20">0</text>
<line x1="585.55" y1="406.2" x2="585.55" y2="409.2" stroke="#999" stroke-width="0.8"/>
<text transform="translate(585.55,418.5) scale(1.200,1)" font-size="7" text-anchor="middle" fill="#231f20">6</text>
<line x1="598.8" y1="406.2" x2="598.8" y2="409.2" stroke="#999" stroke-width="0.8"/>
<text transform="translate(598.8,418.5) scale(1.200,1)" font-size="7" text-anchor="middle" fill="#231f20">10</text>
<line x1="612.05" y1="406.2" x2="612.05" y2="409.2" stroke="#999" stroke-width="0.8"/>
<text transform="translate(612.05,418.5) scale(1.200,1)" font-size="7" text-anchor="middle" fill="#231f20">15</text>
<line x1="625.3" y1="406.2" x2="625.3" y2="409.2" stroke="#999" stroke-width="0.8"/>
<text transform="translate(625.3,418.5) scale(1.200,1)" font-size="7" text-anchor="middle" fill="#231f20">18</text>
<line x1="638.55" y1="406.2" x2="638.55" y2="409.2" stroke="#999" stroke-width="0.8"/>
<text transform="translate(638.55,418.5) scale(1.200,1)" font-size="7" text-anchor="middle" fill="#231f20">22</text>
<line x1="651.8" y1="406.2" x2="651.8" y2="409.2" stroke="#999" stroke-width="0.8"/>
<text transform="translate(651.8,418.5) scale(1.200,1)" font-size="7" text-anchor="middle" fill="#231f20">25</text>
<line x1="665.05" y1="406.2" x2="665.05" y2="409.2" stroke="#999" stroke-width="0.8"/>
<text transform="translate(665.05,418.5) scale(1.200,1)" font-size="7" text-anchor="middle" fill="#231f20">29</text>
<line x1="678.3" y1="406.2" x2="678.3" y2="409.2" stroke="#999" stroke-width="0.8"/>
<text transform="translate(678.3,418.5) scale(1.200,1)" font-size="7" text-anchor="middle" fill="#231f20">31</text>
<text transform="translate(625.3,321.5) scale(0.943,1)" font-size="8.8" text-anchor="middle" fill="#231f20">GPR183<tspan font-size="6.3" dy="-3.7">OE</tspan><tspan dy="3.7"> CAR NK-92 (</tspan><tspan font-style="italic">n</tspan> = 6)</text>
<text transform="translate(625.6,432.3) scale(1.061,1)" font-size="8.6" text-anchor="middle" fill="#231f20">Time after tumor</text>
<text transform="translate(625.6,442.7) scale(1.063,1)" font-size="8.6" text-anchor="middle" fill="#231f20">engraftment (days)</text>
<polyline points="572.3,406.2 585.55,399.28 598.8,398.03 612.05,396.61 625.3,393.15 638.55,393.15 651.8,388.44 665.05,383.41 678.3,372.72" fill="none" stroke="#e6337f" stroke-width="0.65" stroke-linejoin="round"/>
<polyline points="572.3,406.2 585.55,400.7 598.8,398.65 612.05,396.61 625.3,396.61 638.55,394.57 651.8,390.48 665.05,383.41 678.3,374.76" fill="none" stroke="#e6337f" stroke-width="0.65" stroke-linejoin="round"/>
<polyline points="572.3,406.2 585.55,401.64 598.8,399.6 612.05,398.65 625.3,398.65 638.55,394.57 651.8,390.48 665.05,388.44 678.3,376.17" fill="none" stroke="#e6337f" stroke-width="0.65" stroke-linejoin="round"/>
<polyline points="572.3,406.2 585.55,402.74 598.8,401.33 612.05,400.07 625.3,400.7 638.55,398.65 651.8,394.57 665.05,391.42 678.3,385.45" fill="none" stroke="#e6337f" stroke-width="0.65" stroke-linejoin="round"/>
<polyline points="572.3,406.2 585.55,401.64 598.8,402.74 612.05,401.64 625.3,401.64 638.55,398.65 651.8,397.55 665.05,395.51 678.3,389.07" fill="none" stroke="#e6337f" stroke-width="0.65" stroke-linejoin="round"/>
<polyline points="572.3,406.2 585.55,400.7 598.8,399.6 612.05,398.65 625.3,397.55 638.55,394.57 651.8,394.57 665.05,391.42 678.3,388.12" fill="none" stroke="#e6337f" stroke-width="0.65" stroke-linejoin="round"/>
<polygon points="570.51,407.56 574.08,407.56 572.3,404.5" fill="#e6337f"/>
<polygon points="583.76,400.64 587.33,400.64 585.55,397.58" fill="#e6337f"/>
<polygon points="597.01,399.39 600.58,399.39 598.8,396.33" fill="#e6337f"/>
<polygon points="610.26,397.97 613.83,397.97 612.05,394.91" fill="#e6337f"/>
<polygon points="623.51,394.51 627.08,394.51 625.3,391.45" fill="#e6337f"/>
<polygon points="636.76,394.51 640.33,394.51 638.55,391.45" fill="#e6337f"/>
<polygon points="650.01,389.8 653.58,389.8 651.8,386.74" fill="#e6337f"/>
<polygon points="663.26,384.77 666.83,384.77 665.05,381.71" fill="#e6337f"/>
<polygon points="676.51,374.08 680.08,374.08 678.3,371.02" fill="#e6337f"/>
<polygon points="570.51,407.56 574.08,407.56 572.3,404.5" fill="#e6337f"/>
<polygon points="583.76,402.06 587.33,402.06 585.55,399" fill="#e6337f"/>
<polygon points="597.01,400.01 600.58,400.01 598.8,396.95" fill="#e6337f"/>
<polygon points="610.26,397.97 613.83,397.97 612.05,394.91" fill="#e6337f"/>
<polygon points="623.51,397.97 627.08,397.97 625.3,394.91" fill="#e6337f"/>
<polygon points="636.76,395.93 640.33,395.93 638.55,392.87" fill="#e6337f"/>
<polygon points="650.01,391.84 653.58,391.84 651.8,388.78" fill="#e6337f"/>
<polygon points="663.26,384.77 666.83,384.77 665.05,381.71" fill="#e6337f"/>
<polygon points="676.51,376.12 680.08,376.12 678.3,373.06" fill="#e6337f"/>
<polygon points="570.51,407.56 574.08,407.56 572.3,404.5" fill="#e6337f"/>
<polygon points="583.76,403 587.33,403 585.55,399.94" fill="#e6337f"/>
<polygon points="597.01,400.96 600.58,400.96 598.8,397.9" fill="#e6337f"/>
<polygon points="610.26,400.01 613.83,400.01 612.05,396.95" fill="#e6337f"/>
<polygon points="623.51,400.01 627.08,400.01 625.3,396.95" fill="#e6337f"/>
<polygon points="636.76,395.93 640.33,395.93 638.55,392.87" fill="#e6337f"/>
<polygon points="650.01,391.84 653.58,391.84 651.8,388.78" fill="#e6337f"/>
<polygon points="663.26,389.8 666.83,389.8 665.05,386.74" fill="#e6337f"/>
<polygon points="676.51,377.53 680.08,377.53 678.3,374.47" fill="#e6337f"/>
<polygon points="570.51,407.56 574.08,407.56 572.3,404.5" fill="#e6337f"/>
<polygon points="583.76,404.1 587.33,404.1 585.55,401.04" fill="#e6337f"/>
<polygon points="597.01,402.69 600.58,402.69 598.8,399.63" fill="#e6337f"/>
<polygon points="610.26,401.43 613.83,401.43 612.05,398.37" fill="#e6337f"/>
<polygon points="623.51,402.06 627.08,402.06 625.3,399" fill="#e6337f"/>
<polygon points="636.76,400.01 640.33,400.01 638.55,396.95" fill="#e6337f"/>
<polygon points="650.01,395.93 653.58,395.93 651.8,392.87" fill="#e6337f"/>
<polygon points="663.26,392.78 666.83,392.78 665.05,389.72" fill="#e6337f"/>
<polygon points="676.51,386.81 680.08,386.81 678.3,383.75" fill="#e6337f"/>
<polygon points="570.51,407.56 574.08,407.56 572.3,404.5" fill="#e6337f"/>
<polygon points="583.76,403 587.33,403 585.55,399.94" fill="#e6337f"/>
<polygon points="597.01,404.1 600.58,404.1 598.8,401.04" fill="#e6337f"/>
<polygon points="610.26,403 613.83,403 612.05,399.94" fill="#e6337f"/>
<polygon points="623.51,403 627.08,403 625.3,399.94" fill="#e6337f"/>
<polygon points="636.76,400.01 640.33,400.01 638.55,396.95" fill="#e6337f"/>
<polygon points="650.01,398.91 653.58,398.91 651.8,395.85" fill="#e6337f"/>
<polygon points="663.26,396.87 666.83,396.87 665.05,393.81" fill="#e6337f"/>
<polygon points="676.51,390.43 680.08,390.43 678.3,387.37" fill="#e6337f"/>
<polygon points="570.51,407.56 574.08,407.56 572.3,404.5" fill="#e6337f"/>
<polygon points="583.76,402.06 587.33,402.06 585.55,399" fill="#e6337f"/>
<polygon points="597.01,400.96 600.58,400.96 598.8,397.9" fill="#e6337f"/>
<polygon points="610.26,400.01 613.83,400.01 612.05,396.95" fill="#e6337f"/>
<polygon points="623.51,398.91 627.08,398.91 625.3,395.85" fill="#e6337f"/>
<polygon points="636.76,395.93 640.33,395.93 638.55,392.87" fill="#e6337f"/>
<polygon points="650.01,395.93 653.58,395.93 651.8,392.87" fill="#e6337f"/>
<polygon points="663.26,392.78 666.83,392.78 665.05,389.72" fill="#e6337f"/>
<polygon points="676.51,389.48 680.08,389.48 678.3,386.42" fill="#e6337f"/>
</svg>
</body></html>
